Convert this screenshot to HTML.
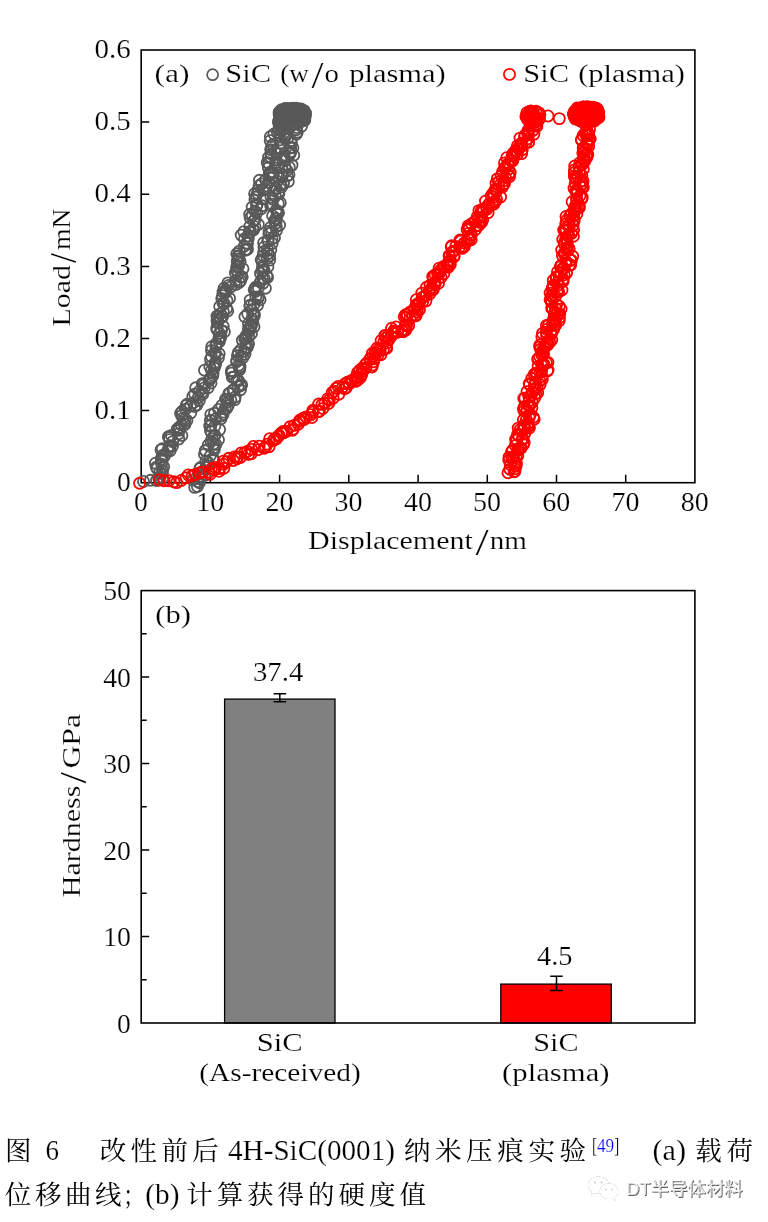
<!DOCTYPE html>
<html lang="zh-CN">
<head>
<meta charset="utf-8">
<title>图 6 改性前后 4H-SiC(0001) 纳米压痕实验</title>
<style>
html,body{margin:0;padding:0;background:#fff}
body{width:768px;height:1222px;overflow:hidden}
svg{display:block}
text{white-space:pre;stroke:#fff;stroke-width:.2px;paint-order:fill stroke}
text.cj{stroke:none}
</style>
</head>
<body>
<svg width="768" height="1222" viewBox="0 0 768 1222" font-family='"Liberation Serif","Noto Serif CJK SC",serif' fill="#000">
<rect width="768" height="1222" fill="#fff"/>
<rect x="141.2" y="50.0" width="553.7" height="432.7" fill="none" stroke="#000" stroke-width="1.6"/>
<path d="M210.4 482.7v-8M279.6 482.7v-8M348.8 482.7v-8M418.1 482.7v-8M487.3 482.7v-8M556.5 482.7v-8M625.7 482.7v-8M141.2 410.6h8M141.2 338.5h8M141.2 266.4h8M141.2 194.2h8M141.2 122.1h8" stroke="#000" stroke-width="1.5" fill="none"/>
<g fill="none" stroke="#595959" stroke-width="1.8">
<circle cx="143.5" cy="481.5" r="5.55"/><circle cx="150.5" cy="480.3" r="5.55"/><circle cx="156.5" cy="480.5" r="5.55"/><circle cx="159.1" cy="478.8" r="5.55"/><circle cx="158.9" cy="477.5" r="5.55"/><circle cx="162.7" cy="477.7" r="5.55"/><circle cx="162.4" cy="473.6" r="5.55"/><circle cx="159.7" cy="472.4" r="5.55"/><circle cx="162.5" cy="470.4" r="5.55"/><circle cx="156.3" cy="467.1" r="5.55"/><circle cx="157.0" cy="468.5" r="5.55"/><circle cx="163.7" cy="466.8" r="5.55"/><circle cx="161.6" cy="464.1" r="5.55"/><circle cx="155.4" cy="463.2" r="5.55"/><circle cx="162.0" cy="461.1" r="5.55"/><circle cx="161.2" cy="459.1" r="5.55"/><circle cx="163.8" cy="456.8" r="5.55"/><circle cx="162.2" cy="455.5" r="5.55"/><circle cx="165.0" cy="455.1" r="5.55"/><circle cx="161.0" cy="449.9" r="5.55"/><circle cx="162.3" cy="448.8" r="5.55"/><circle cx="167.8" cy="450.5" r="5.55"/><circle cx="170.2" cy="450.7" r="5.55"/><circle cx="169.1" cy="446.8" r="5.55"/><circle cx="172.5" cy="446.1" r="5.55"/><circle cx="170.3" cy="445.8" r="5.55"/><circle cx="172.7" cy="441.6" r="5.55"/><circle cx="169.6" cy="439.6" r="5.55"/><circle cx="168.3" cy="436.8" r="5.55"/><circle cx="169.2" cy="437.6" r="5.55"/><circle cx="171.4" cy="435.4" r="5.55"/><circle cx="178.8" cy="439.0" r="5.55"/><circle cx="178.4" cy="433.9" r="5.55"/><circle cx="181.9" cy="435.5" r="5.55"/><circle cx="179.0" cy="430.3" r="5.55"/><circle cx="177.3" cy="429.0" r="5.55"/><circle cx="178.9" cy="428.0" r="5.55"/><circle cx="179.3" cy="427.4" r="5.55"/><circle cx="181.5" cy="425.0" r="5.55"/><circle cx="184.9" cy="424.4" r="5.55"/><circle cx="184.3" cy="424.2" r="5.55"/><circle cx="186.9" cy="420.4" r="5.55"/><circle cx="183.0" cy="418.0" r="5.55"/><circle cx="184.9" cy="419.4" r="5.55"/><circle cx="181.6" cy="415.6" r="5.55"/><circle cx="180.6" cy="413.3" r="5.55"/><circle cx="182.2" cy="411.3" r="5.55"/><circle cx="190.7" cy="412.9" r="5.55"/><circle cx="185.5" cy="409.1" r="5.55"/><circle cx="186.1" cy="405.6" r="5.55"/><circle cx="190.4" cy="406.0" r="5.55"/><circle cx="187.0" cy="404.3" r="5.55"/><circle cx="194.7" cy="406.5" r="5.55"/><circle cx="196.9" cy="404.9" r="5.55"/><circle cx="193.2" cy="402.7" r="5.55"/><circle cx="199.3" cy="400.6" r="5.55"/><circle cx="192.7" cy="396.5" r="5.55"/><circle cx="198.1" cy="397.8" r="5.55"/><circle cx="194.7" cy="394.1" r="5.55"/><circle cx="202.7" cy="394.3" r="5.55"/><circle cx="202.0" cy="392.4" r="5.55"/><circle cx="199.3" cy="391.2" r="5.55"/><circle cx="195.7" cy="387.8" r="5.55"/><circle cx="204.3" cy="387.9" r="5.55"/><circle cx="208.1" cy="387.7" r="5.55"/><circle cx="203.4" cy="385.0" r="5.55"/><circle cx="202.3" cy="383.6" r="5.55"/><circle cx="211.0" cy="382.9" r="5.55"/><circle cx="209.1" cy="380.6" r="5.55"/><circle cx="209.6" cy="379.2" r="5.55"/><circle cx="210.5" cy="378.1" r="5.55"/><circle cx="210.8" cy="377.8" r="5.55"/><circle cx="212.8" cy="375.6" r="5.55"/><circle cx="213.0" cy="373.4" r="5.55"/><circle cx="204.5" cy="370.2" r="5.55"/><circle cx="211.6" cy="370.2" r="5.55"/><circle cx="214.3" cy="368.0" r="5.55"/><circle cx="209.8" cy="366.7" r="5.55"/><circle cx="215.0" cy="365.8" r="5.55"/><circle cx="215.5" cy="364.1" r="5.55"/><circle cx="215.3" cy="362.4" r="5.55"/><circle cx="210.5" cy="359.4" r="5.55"/><circle cx="211.5" cy="356.8" r="5.55"/><circle cx="218.4" cy="357.9" r="5.55"/><circle cx="215.7" cy="353.6" r="5.55"/><circle cx="219.2" cy="353.7" r="5.55"/><circle cx="214.9" cy="352.6" r="5.55"/><circle cx="211.5" cy="350.4" r="5.55"/><circle cx="211.7" cy="346.8" r="5.55"/><circle cx="215.8" cy="346.3" r="5.55"/><circle cx="216.3" cy="343.6" r="5.55"/><circle cx="216.3" cy="344.1" r="5.55"/><circle cx="219.3" cy="341.8" r="5.55"/><circle cx="220.2" cy="338.6" r="5.55"/><circle cx="219.1" cy="338.0" r="5.55"/><circle cx="220.8" cy="336.6" r="5.55"/><circle cx="219.4" cy="333.2" r="5.55"/><circle cx="224.4" cy="331.8" r="5.55"/><circle cx="221.4" cy="330.4" r="5.55"/><circle cx="217.2" cy="329.9" r="5.55"/><circle cx="216.7" cy="328.3" r="5.55"/><circle cx="223.2" cy="326.2" r="5.55"/><circle cx="217.4" cy="322.9" r="5.55"/><circle cx="217.1" cy="321.0" r="5.55"/><circle cx="217.5" cy="318.7" r="5.55"/><circle cx="220.6" cy="318.1" r="5.55"/><circle cx="217.0" cy="316.1" r="5.55"/><circle cx="218.7" cy="316.1" r="5.55"/><circle cx="222.6" cy="316.6" r="5.55"/><circle cx="220.4" cy="313.6" r="5.55"/><circle cx="223.3" cy="311.6" r="5.55"/><circle cx="227.7" cy="310.9" r="5.55"/><circle cx="219.7" cy="306.5" r="5.55"/><circle cx="226.6" cy="308.6" r="5.55"/><circle cx="224.4" cy="303.8" r="5.55"/><circle cx="222.9" cy="303.1" r="5.55"/><circle cx="227.0" cy="300.6" r="5.55"/><circle cx="221.8" cy="298.6" r="5.55"/><circle cx="222.5" cy="295.7" r="5.55"/><circle cx="229.5" cy="298.4" r="5.55"/><circle cx="223.0" cy="292.0" r="5.55"/><circle cx="225.7" cy="292.5" r="5.55"/><circle cx="225.3" cy="291.3" r="5.55"/><circle cx="225.5" cy="290.2" r="5.55"/><circle cx="224.1" cy="288.3" r="5.55"/><circle cx="228.7" cy="285.4" r="5.55"/><circle cx="231.1" cy="286.6" r="5.55"/><circle cx="227.9" cy="282.9" r="5.55"/><circle cx="236.1" cy="284.4" r="5.55"/><circle cx="235.5" cy="280.7" r="5.55"/><circle cx="239.2" cy="282.4" r="5.55"/><circle cx="240.6" cy="280.7" r="5.55"/><circle cx="240.7" cy="276.9" r="5.55"/><circle cx="242.2" cy="276.9" r="5.55"/><circle cx="238.2" cy="273.9" r="5.55"/><circle cx="235.4" cy="273.0" r="5.55"/><circle cx="236.5" cy="270.3" r="5.55"/><circle cx="243.0" cy="268.7" r="5.55"/><circle cx="236.7" cy="266.7" r="5.55"/><circle cx="238.6" cy="266.1" r="5.55"/><circle cx="237.2" cy="261.4" r="5.55"/><circle cx="240.2" cy="261.8" r="5.55"/><circle cx="238.2" cy="259.3" r="5.55"/><circle cx="239.1" cy="258.7" r="5.55"/><circle cx="238.0" cy="255.9" r="5.55"/><circle cx="238.6" cy="256.3" r="5.55"/><circle cx="236.8" cy="253.8" r="5.55"/><circle cx="239.4" cy="251.1" r="5.55"/><circle cx="245.2" cy="250.2" r="5.55"/><circle cx="246.5" cy="249.4" r="5.55"/><circle cx="247.5" cy="249.3" r="5.55"/><circle cx="244.2" cy="246.2" r="5.55"/><circle cx="247.5" cy="243.5" r="5.55"/><circle cx="246.6" cy="243.1" r="5.55"/><circle cx="244.5" cy="238.8" r="5.55"/><circle cx="248.3" cy="238.6" r="5.55"/><circle cx="247.9" cy="236.2" r="5.55"/><circle cx="241.2" cy="235.1" r="5.55"/><circle cx="243.8" cy="231.7" r="5.55"/><circle cx="250.2" cy="232.2" r="5.55"/><circle cx="249.4" cy="232.0" r="5.55"/><circle cx="253.6" cy="229.9" r="5.55"/><circle cx="253.0" cy="229.6" r="5.55"/><circle cx="249.7" cy="226.5" r="5.55"/><circle cx="255.0" cy="226.7" r="5.55"/><circle cx="258.3" cy="224.4" r="5.55"/><circle cx="253.7" cy="221.0" r="5.55"/><circle cx="255.2" cy="219.3" r="5.55"/><circle cx="250.2" cy="218.0" r="5.55"/><circle cx="252.3" cy="215.0" r="5.55"/><circle cx="249.7" cy="214.3" r="5.55"/><circle cx="256.8" cy="212.7" r="5.55"/><circle cx="255.2" cy="211.5" r="5.55"/><circle cx="252.2" cy="207.1" r="5.55"/><circle cx="261.3" cy="208.6" r="5.55"/><circle cx="256.5" cy="205.9" r="5.55"/><circle cx="257.0" cy="204.6" r="5.55"/><circle cx="262.2" cy="205.8" r="5.55"/><circle cx="255.0" cy="200.1" r="5.55"/><circle cx="255.7" cy="197.1" r="5.55"/><circle cx="263.3" cy="198.9" r="5.55"/><circle cx="263.4" cy="198.2" r="5.55"/><circle cx="254.6" cy="193.7" r="5.55"/><circle cx="257.5" cy="193.3" r="5.55"/><circle cx="258.2" cy="190.1" r="5.55"/><circle cx="262.8" cy="190.0" r="5.55"/><circle cx="264.9" cy="188.9" r="5.55"/><circle cx="259.0" cy="185.7" r="5.55"/><circle cx="266.9" cy="185.9" r="5.55"/><circle cx="261.6" cy="183.9" r="5.55"/><circle cx="259.4" cy="180.3" r="5.55"/><circle cx="268.8" cy="182.4" r="5.55"/><circle cx="265.4" cy="180.0" r="5.55"/><circle cx="271.5" cy="177.5" r="5.55"/><circle cx="269.5" cy="174.8" r="5.55"/><circle cx="269.3" cy="173.4" r="5.55"/><circle cx="271.1" cy="174.3" r="5.55"/><circle cx="270.8" cy="171.9" r="5.55"/><circle cx="273.6" cy="172.7" r="5.55"/><circle cx="268.3" cy="167.8" r="5.55"/><circle cx="274.9" cy="168.1" r="5.55"/><circle cx="268.7" cy="163.2" r="5.55"/><circle cx="267.2" cy="162.6" r="5.55"/><circle cx="275.3" cy="162.8" r="5.55"/><circle cx="276.3" cy="159.7" r="5.55"/><circle cx="268.5" cy="157.4" r="5.55"/><circle cx="270.9" cy="157.3" r="5.55"/><circle cx="271.3" cy="153.9" r="5.55"/><circle cx="277.0" cy="153.7" r="5.55"/><circle cx="275.1" cy="152.0" r="5.55"/><circle cx="270.7" cy="149.6" r="5.55"/><circle cx="271.7" cy="146.5" r="5.55"/><circle cx="279.2" cy="147.8" r="5.55"/><circle cx="272.9" cy="144.5" r="5.55"/><circle cx="280.4" cy="142.9" r="5.55"/><circle cx="270.2" cy="140.7" r="5.55"/><circle cx="279.5" cy="140.0" r="5.55"/><circle cx="270.4" cy="136.6" r="5.55"/><circle cx="279.7" cy="135.1" r="5.55"/><circle cx="273.9" cy="134.0" r="5.55"/><circle cx="277.4" cy="132.6" r="5.55"/><circle cx="280.9" cy="130.8" r="5.55"/><circle cx="279.0" cy="129.0" r="5.55"/><circle cx="282.5" cy="130.2" r="5.55"/><circle cx="282.9" cy="127.1" r="5.55"/><circle cx="279.5" cy="124.5" r="5.55"/><circle cx="278.8" cy="123.5" r="5.55"/><circle cx="284.5" cy="122.2" r="5.55"/><circle cx="284.8" cy="122.1" r="5.55"/><circle cx="283.8" cy="117.3" r="5.55"/><circle cx="288.1" cy="117.1" r="5.55"/><circle cx="281.5" cy="113.6" r="5.55"/><circle cx="303.0" cy="115.9" r="5.55"/><circle cx="304.1" cy="119.4" r="5.55"/><circle cx="304.4" cy="120.3" r="5.55"/><circle cx="301.2" cy="121.5" r="5.55"/><circle cx="297.2" cy="120.7" r="5.55"/><circle cx="301.6" cy="126.1" r="5.55"/><circle cx="296.0" cy="122.6" r="5.55"/><circle cx="295.6" cy="124.4" r="5.55"/><circle cx="296.6" cy="127.5" r="5.55"/><circle cx="296.2" cy="129.7" r="5.55"/><circle cx="297.2" cy="132.2" r="5.55"/><circle cx="289.0" cy="128.4" r="5.55"/><circle cx="296.3" cy="134.2" r="5.55"/><circle cx="285.9" cy="135.4" r="5.55"/><circle cx="285.0" cy="135.9" r="5.55"/><circle cx="284.7" cy="137.7" r="5.55"/><circle cx="287.4" cy="138.5" r="5.55"/><circle cx="290.9" cy="140.7" r="5.55"/><circle cx="291.4" cy="142.5" r="5.55"/><circle cx="292.9" cy="147.7" r="5.55"/><circle cx="290.6" cy="147.6" r="5.55"/><circle cx="290.4" cy="147.8" r="5.55"/><circle cx="290.5" cy="151.7" r="5.55"/><circle cx="290.5" cy="153.0" r="5.55"/><circle cx="289.9" cy="154.1" r="5.55"/><circle cx="293.7" cy="155.2" r="5.55"/><circle cx="284.2" cy="154.9" r="5.55"/><circle cx="283.8" cy="157.7" r="5.55"/><circle cx="282.7" cy="159.5" r="5.55"/><circle cx="285.1" cy="160.7" r="5.55"/><circle cx="292.0" cy="165.1" r="5.55"/><circle cx="284.9" cy="166.8" r="5.55"/><circle cx="289.3" cy="167.2" r="5.55"/><circle cx="281.8" cy="167.8" r="5.55"/><circle cx="287.0" cy="170.5" r="5.55"/><circle cx="289.0" cy="174.8" r="5.55"/><circle cx="282.3" cy="174.2" r="5.55"/><circle cx="287.3" cy="175.9" r="5.55"/><circle cx="282.5" cy="175.1" r="5.55"/><circle cx="282.0" cy="177.0" r="5.55"/><circle cx="288.3" cy="181.5" r="5.55"/><circle cx="277.2" cy="181.3" r="5.55"/><circle cx="283.5" cy="183.4" r="5.55"/><circle cx="280.3" cy="184.9" r="5.55"/><circle cx="281.8" cy="186.8" r="5.55"/><circle cx="276.0" cy="188.1" r="5.55"/><circle cx="275.7" cy="188.1" r="5.55"/><circle cx="278.5" cy="192.2" r="5.55"/><circle cx="274.1" cy="190.8" r="5.55"/><circle cx="278.9" cy="193.6" r="5.55"/><circle cx="275.3" cy="196.1" r="5.55"/><circle cx="271.0" cy="197.0" r="5.55"/><circle cx="272.9" cy="199.2" r="5.55"/><circle cx="280.3" cy="202.7" r="5.55"/><circle cx="272.3" cy="204.2" r="5.55"/><circle cx="278.3" cy="203.5" r="5.55"/><circle cx="270.7" cy="205.5" r="5.55"/><circle cx="276.3" cy="210.1" r="5.55"/><circle cx="277.3" cy="211.1" r="5.55"/><circle cx="278.5" cy="212.9" r="5.55"/><circle cx="277.2" cy="213.3" r="5.55"/><circle cx="277.3" cy="214.1" r="5.55"/><circle cx="272.6" cy="215.7" r="5.55"/><circle cx="275.9" cy="218.5" r="5.55"/><circle cx="276.4" cy="219.0" r="5.55"/><circle cx="274.4" cy="220.9" r="5.55"/><circle cx="276.0" cy="223.3" r="5.55"/><circle cx="279.6" cy="225.0" r="5.55"/><circle cx="276.3" cy="226.8" r="5.55"/><circle cx="270.5" cy="227.5" r="5.55"/><circle cx="276.5" cy="230.5" r="5.55"/><circle cx="269.1" cy="231.3" r="5.55"/><circle cx="271.6" cy="232.2" r="5.55"/><circle cx="268.9" cy="233.7" r="5.55"/><circle cx="272.1" cy="238.7" r="5.55"/><circle cx="274.5" cy="237.8" r="5.55"/><circle cx="268.0" cy="241.0" r="5.55"/><circle cx="268.0" cy="240.4" r="5.55"/><circle cx="272.1" cy="243.4" r="5.55"/><circle cx="263.6" cy="242.8" r="5.55"/><circle cx="264.0" cy="247.2" r="5.55"/><circle cx="270.8" cy="250.0" r="5.55"/><circle cx="267.5" cy="249.4" r="5.55"/><circle cx="267.9" cy="253.7" r="5.55"/><circle cx="263.7" cy="251.8" r="5.55"/><circle cx="269.6" cy="255.9" r="5.55"/><circle cx="263.2" cy="255.6" r="5.55"/><circle cx="267.2" cy="258.4" r="5.55"/><circle cx="269.7" cy="260.1" r="5.55"/><circle cx="261.2" cy="259.8" r="5.55"/><circle cx="262.2" cy="261.5" r="5.55"/><circle cx="267.9" cy="266.7" r="5.55"/><circle cx="262.6" cy="265.9" r="5.55"/><circle cx="262.7" cy="267.9" r="5.55"/><circle cx="264.0" cy="270.3" r="5.55"/><circle cx="262.1" cy="270.9" r="5.55"/><circle cx="260.5" cy="273.4" r="5.55"/><circle cx="266.9" cy="276.1" r="5.55"/><circle cx="267.5" cy="277.4" r="5.55"/><circle cx="264.3" cy="278.6" r="5.55"/><circle cx="262.5" cy="278.5" r="5.55"/><circle cx="260.4" cy="282.0" r="5.55"/><circle cx="263.1" cy="283.1" r="5.55"/><circle cx="265.4" cy="288.2" r="5.55"/><circle cx="258.4" cy="288.1" r="5.55"/><circle cx="255.8" cy="287.1" r="5.55"/><circle cx="255.1" cy="288.8" r="5.55"/><circle cx="254.2" cy="289.8" r="5.55"/><circle cx="255.4" cy="291.4" r="5.55"/><circle cx="258.5" cy="296.9" r="5.55"/><circle cx="255.8" cy="297.1" r="5.55"/><circle cx="258.0" cy="298.3" r="5.55"/><circle cx="260.1" cy="299.8" r="5.55"/><circle cx="250.2" cy="300.1" r="5.55"/><circle cx="257.5" cy="305.3" r="5.55"/><circle cx="253.9" cy="304.5" r="5.55"/><circle cx="250.1" cy="305.3" r="5.55"/><circle cx="249.9" cy="305.9" r="5.55"/><circle cx="251.6" cy="309.7" r="5.55"/><circle cx="254.3" cy="313.8" r="5.55"/><circle cx="253.0" cy="314.2" r="5.55"/><circle cx="254.3" cy="316.1" r="5.55"/><circle cx="247.7" cy="313.9" r="5.55"/><circle cx="244.9" cy="316.7" r="5.55"/><circle cx="251.8" cy="318.7" r="5.55"/><circle cx="252.8" cy="321.8" r="5.55"/><circle cx="248.5" cy="323.7" r="5.55"/><circle cx="251.5" cy="325.3" r="5.55"/><circle cx="254.0" cy="326.8" r="5.55"/><circle cx="250.6" cy="327.2" r="5.55"/><circle cx="248.3" cy="328.9" r="5.55"/><circle cx="249.4" cy="330.9" r="5.55"/><circle cx="251.4" cy="333.8" r="5.55"/><circle cx="246.6" cy="335.1" r="5.55"/><circle cx="248.7" cy="336.7" r="5.55"/><circle cx="245.7" cy="337.3" r="5.55"/><circle cx="244.7" cy="338.9" r="5.55"/><circle cx="242.4" cy="340.3" r="5.55"/><circle cx="248.5" cy="344.1" r="5.55"/><circle cx="246.3" cy="343.3" r="5.55"/><circle cx="247.3" cy="347.3" r="5.55"/><circle cx="245.4" cy="347.8" r="5.55"/><circle cx="241.0" cy="349.5" r="5.55"/><circle cx="244.2" cy="351.2" r="5.55"/><circle cx="245.0" cy="354.1" r="5.55"/><circle cx="238.3" cy="352.5" r="5.55"/><circle cx="237.5" cy="355.6" r="5.55"/><circle cx="240.5" cy="357.0" r="5.55"/><circle cx="242.8" cy="357.8" r="5.55"/><circle cx="236.7" cy="360.6" r="5.55"/><circle cx="236.7" cy="361.8" r="5.55"/><circle cx="238.8" cy="365.1" r="5.55"/><circle cx="240.1" cy="366.6" r="5.55"/><circle cx="239.7" cy="369.6" r="5.55"/><circle cx="239.5" cy="368.0" r="5.55"/><circle cx="231.4" cy="370.7" r="5.55"/><circle cx="232.1" cy="370.7" r="5.55"/><circle cx="231.5" cy="373.2" r="5.55"/><circle cx="233.8" cy="377.1" r="5.55"/><circle cx="232.3" cy="377.3" r="5.55"/><circle cx="236.8" cy="380.6" r="5.55"/><circle cx="238.6" cy="380.7" r="5.55"/><circle cx="240.5" cy="385.8" r="5.55"/><circle cx="241.7" cy="384.8" r="5.55"/><circle cx="238.1" cy="386.6" r="5.55"/><circle cx="240.5" cy="389.7" r="5.55"/><circle cx="233.0" cy="390.0" r="5.55"/><circle cx="234.1" cy="390.1" r="5.55"/><circle cx="229.8" cy="393.1" r="5.55"/><circle cx="228.8" cy="393.5" r="5.55"/><circle cx="235.2" cy="397.0" r="5.55"/><circle cx="234.8" cy="399.6" r="5.55"/><circle cx="227.3" cy="399.2" r="5.55"/><circle cx="230.8" cy="399.9" r="5.55"/><circle cx="225.6" cy="399.1" r="5.55"/><circle cx="228.2" cy="401.8" r="5.55"/><circle cx="228.2" cy="405.8" r="5.55"/><circle cx="226.9" cy="408.1" r="5.55"/><circle cx="221.8" cy="405.5" r="5.55"/><circle cx="225.0" cy="408.9" r="5.55"/><circle cx="223.3" cy="412.1" r="5.55"/><circle cx="223.1" cy="414.3" r="5.55"/><circle cx="218.7" cy="409.4" r="5.55"/><circle cx="221.4" cy="416.0" r="5.55"/><circle cx="221.1" cy="418.7" r="5.55"/><circle cx="214.5" cy="413.3" r="5.55"/><circle cx="215.6" cy="419.0" r="5.55"/><circle cx="210.8" cy="414.6" r="5.55"/><circle cx="210.4" cy="420.3" r="5.55"/><circle cx="211.2" cy="420.7" r="5.55"/><circle cx="210.8" cy="425.4" r="5.55"/><circle cx="214.9" cy="426.1" r="5.55"/><circle cx="209.7" cy="426.1" r="5.55"/><circle cx="219.6" cy="429.6" r="5.55"/><circle cx="210.5" cy="430.7" r="5.55"/><circle cx="211.2" cy="431.8" r="5.55"/><circle cx="215.0" cy="435.5" r="5.55"/><circle cx="213.9" cy="436.3" r="5.55"/><circle cx="218.5" cy="439.8" r="5.55"/><circle cx="212.1" cy="438.8" r="5.55"/><circle cx="211.0" cy="441.3" r="5.55"/><circle cx="213.6" cy="444.0" r="5.55"/><circle cx="215.9" cy="444.5" r="5.55"/><circle cx="208.3" cy="445.1" r="5.55"/><circle cx="214.0" cy="447.6" r="5.55"/><circle cx="214.3" cy="449.9" r="5.55"/><circle cx="205.3" cy="450.8" r="5.55"/><circle cx="205.5" cy="450.5" r="5.55"/><circle cx="204.5" cy="454.2" r="5.55"/><circle cx="210.2" cy="456.0" r="5.55"/><circle cx="213.2" cy="458.5" r="5.55"/><circle cx="213.5" cy="460.5" r="5.55"/><circle cx="205.9" cy="461.3" r="5.55"/><circle cx="208.0" cy="462.2" r="5.55"/><circle cx="207.4" cy="465.6" r="5.55"/><circle cx="206.3" cy="467.0" r="5.55"/><circle cx="206.0" cy="467.4" r="5.55"/><circle cx="200.5" cy="467.5" r="5.55"/><circle cx="199.8" cy="468.7" r="5.55"/><circle cx="202.9" cy="471.3" r="5.55"/><circle cx="205.1" cy="475.1" r="5.55"/><circle cx="198.5" cy="473.9" r="5.55"/><circle cx="201.0" cy="476.1" r="5.55"/><circle cx="200.2" cy="478.9" r="5.55"/><circle cx="199.4" cy="482.8" r="5.55"/><circle cx="197.9" cy="481.6" r="5.55"/><circle cx="197.4" cy="486.5" r="5.55"/><circle cx="193.0" cy="479.9" r="5.55"/><circle cx="194.7" cy="487.4" r="5.55"/><circle cx="293.5" cy="115.7" r="5.55"/><circle cx="292.7" cy="114.9" r="5.55"/><circle cx="301.3" cy="113.6" r="5.55"/><circle cx="290.0" cy="118.1" r="5.55"/><circle cx="284.5" cy="115.4" r="5.55"/><circle cx="289.5" cy="116.2" r="5.55"/><circle cx="288.5" cy="108.7" r="5.55"/><circle cx="286.3" cy="112.3" r="5.55"/><circle cx="279.2" cy="112.5" r="5.55"/><circle cx="290.2" cy="115.5" r="5.55"/><circle cx="288.4" cy="110.9" r="5.55"/><circle cx="284.9" cy="116.0" r="5.55"/><circle cx="304.4" cy="113.7" r="5.55"/><circle cx="284.8" cy="116.6" r="5.55"/><circle cx="289.5" cy="110.3" r="5.55"/><circle cx="282.3" cy="116.3" r="5.55"/><circle cx="300.8" cy="114.8" r="5.55"/><circle cx="291.6" cy="114.1" r="5.55"/><circle cx="288.4" cy="114.9" r="5.55"/><circle cx="301.1" cy="116.8" r="5.55"/><circle cx="291.5" cy="111.2" r="5.55"/><circle cx="293.7" cy="109.4" r="5.55"/><circle cx="301.5" cy="111.9" r="5.55"/><circle cx="301.9" cy="110.9" r="5.55"/><circle cx="289.0" cy="110.8" r="5.55"/><circle cx="290.4" cy="110.1" r="5.55"/><circle cx="286.4" cy="110.7" r="5.55"/><circle cx="287.0" cy="113.2" r="5.55"/><circle cx="290.5" cy="114.9" r="5.55"/><circle cx="296.7" cy="111.9" r="5.55"/><circle cx="303.4" cy="116.4" r="5.55"/><circle cx="282.6" cy="116.9" r="5.55"/><circle cx="296.0" cy="108.3" r="5.55"/><circle cx="296.6" cy="110.8" r="5.55"/><circle cx="281.6" cy="109.6" r="5.55"/><circle cx="285.2" cy="116.3" r="5.55"/><circle cx="288.2" cy="109.7" r="5.55"/><circle cx="303.4" cy="116.5" r="5.55"/><circle cx="283.4" cy="117.5" r="5.55"/><circle cx="295.3" cy="116.4" r="5.55"/><circle cx="297.0" cy="117.6" r="5.55"/><circle cx="300.2" cy="117.0" r="5.55"/><circle cx="284.2" cy="115.4" r="5.55"/><circle cx="293.2" cy="116.0" r="5.55"/><circle cx="290.7" cy="117.5" r="5.55"/><circle cx="293.9" cy="110.9" r="5.55"/><circle cx="285.2" cy="109.6" r="5.55"/><circle cx="292.2" cy="108.7" r="5.55"/><circle cx="291.5" cy="109.6" r="5.55"/><circle cx="292.2" cy="113.4" r="5.55"/><circle cx="293.5" cy="117.2" r="5.55"/><circle cx="291.5" cy="114.1" r="5.55"/><circle cx="296.9" cy="117.0" r="5.55"/><circle cx="289.0" cy="112.5" r="5.55"/><circle cx="296.1" cy="114.8" r="5.55"/><circle cx="279.6" cy="114.6" r="5.55"/><circle cx="297.4" cy="118.0" r="5.55"/><circle cx="287.8" cy="118.5" r="5.55"/><circle cx="292.7" cy="113.2" r="5.55"/><circle cx="298.3" cy="114.7" r="5.55"/><circle cx="288.0" cy="117.2" r="5.55"/><circle cx="288.8" cy="113.1" r="5.55"/><circle cx="293.1" cy="116.3" r="5.55"/><circle cx="284.5" cy="112.7" r="5.55"/><circle cx="290.3" cy="114.0" r="5.55"/><circle cx="301.3" cy="111.2" r="5.55"/><circle cx="301.3" cy="112.4" r="5.55"/><circle cx="292.5" cy="111.0" r="5.55"/><circle cx="292.6" cy="118.4" r="5.55"/><circle cx="296.6" cy="116.5" r="5.55"/><circle cx="287.8" cy="111.5" r="5.55"/><circle cx="286.9" cy="114.3" r="5.55"/><circle cx="296.1" cy="116.4" r="5.55"/><circle cx="279.9" cy="115.8" r="5.55"/><circle cx="302.9" cy="113.9" r="5.55"/><circle cx="280.2" cy="111.3" r="5.55"/><circle cx="303.9" cy="114.6" r="5.55"/><circle cx="296.7" cy="116.5" r="5.55"/><circle cx="303.5" cy="114.6" r="5.55"/><circle cx="295.6" cy="114.7" r="5.55"/><circle cx="297.7" cy="114.4" r="5.55"/><circle cx="297.3" cy="110.4" r="5.55"/><circle cx="296.9" cy="113.0" r="5.55"/><circle cx="299.5" cy="109.2" r="5.55"/><circle cx="299.9" cy="117.8" r="5.55"/><circle cx="296.6" cy="112.0" r="5.55"/><circle cx="301.2" cy="116.4" r="5.55"/><circle cx="294.1" cy="110.8" r="5.55"/><circle cx="287.0" cy="112.6" r="5.55"/><circle cx="287.5" cy="112.7" r="5.55"/><circle cx="296.3" cy="118.0" r="5.55"/><circle cx="280.3" cy="114.1" r="5.55"/><circle cx="300.8" cy="114.2" r="5.55"/><circle cx="303.8" cy="112.8" r="5.55"/><circle cx="279.2" cy="112.2" r="5.55"/><circle cx="294.9" cy="118.0" r="5.55"/><circle cx="305.5" cy="113.1" r="5.55"/><circle cx="290.0" cy="109.2" r="5.55"/><circle cx="296.3" cy="110.4" r="5.55"/><circle cx="298.4" cy="110.7" r="5.55"/><circle cx="298.8" cy="110.1" r="5.55"/><circle cx="280.2" cy="116.3" r="5.55"/><circle cx="298.2" cy="117.2" r="5.55"/><circle cx="298.6" cy="109.0" r="5.55"/><circle cx="295.9" cy="115.6" r="5.55"/><circle cx="291.3" cy="118.0" r="5.55"/><circle cx="285.7" cy="118.3" r="5.55"/><circle cx="279.2" cy="115.0" r="5.55"/><circle cx="301.0" cy="108.9" r="5.55"/><circle cx="287.3" cy="115.8" r="5.55"/><circle cx="283.3" cy="117.2" r="5.55"/><circle cx="292.0" cy="108.7" r="5.55"/><circle cx="288.8" cy="114.2" r="5.55"/><circle cx="290.7" cy="115.3" r="5.55"/><circle cx="282.7" cy="116.6" r="5.55"/><circle cx="288.7" cy="114.9" r="5.55"/><circle cx="295.9" cy="112.5" r="5.55"/><circle cx="289.3" cy="116.4" r="5.55"/><circle cx="304.5" cy="116.4" r="5.55"/><circle cx="294.2" cy="111.2" r="5.55"/><circle cx="297.9" cy="116.9" r="5.55"/><circle cx="287.8" cy="114.5" r="5.55"/><circle cx="295.2" cy="111.4" r="5.55"/><circle cx="290.5" cy="117.5" r="5.55"/><circle cx="289.0" cy="115.4" r="5.55"/><circle cx="295.2" cy="117.6" r="5.55"/><circle cx="300.8" cy="111.1" r="5.55"/><circle cx="290.3" cy="114.3" r="5.55"/><circle cx="301.0" cy="117.5" r="5.55"/><circle cx="300.9" cy="117.3" r="5.55"/><circle cx="294.4" cy="111.0" r="5.55"/><circle cx="302.0" cy="116.7" r="5.55"/><circle cx="297.4" cy="117.8" r="5.55"/><circle cx="288.2" cy="109.0" r="5.55"/><circle cx="293.9" cy="116.6" r="5.55"/><circle cx="284.3" cy="116.1" r="5.55"/><circle cx="304.1" cy="110.6" r="5.55"/><circle cx="295.3" cy="115.3" r="5.55"/><circle cx="291.5" cy="110.3" r="5.55"/><circle cx="285.7" cy="116.1" r="5.55"/><circle cx="300.3" cy="113.0" r="5.55"/><circle cx="281.2" cy="116.6" r="5.55"/><circle cx="299.8" cy="110.6" r="5.55"/><circle cx="294.6" cy="117.6" r="5.55"/><circle cx="302.9" cy="113.6" r="5.55"/><circle cx="291.8" cy="114.3" r="5.55"/><circle cx="283.9" cy="110.1" r="5.55"/><circle cx="283.7" cy="115.5" r="5.55"/><circle cx="288.7" cy="114.1" r="5.55"/><circle cx="289.7" cy="113.6" r="5.55"/><circle cx="281.7" cy="114.8" r="5.55"/><circle cx="300.2" cy="109.8" r="5.55"/><circle cx="295.0" cy="111.8" r="5.55"/><circle cx="292.9" cy="108.3" r="5.55"/><circle cx="302.4" cy="113.3" r="5.55"/><circle cx="294.2" cy="110.9" r="5.55"/><circle cx="300.0" cy="112.6" r="5.55"/><circle cx="304.5" cy="116.2" r="5.55"/><circle cx="285.7" cy="108.5" r="5.55"/><circle cx="284.3" cy="110.0" r="5.55"/><circle cx="294.0" cy="117.3" r="5.55"/><circle cx="291.3" cy="118.1" r="5.55"/><circle cx="295.1" cy="112.3" r="5.55"/><circle cx="285.8" cy="114.1" r="5.55"/><circle cx="296.2" cy="118.2" r="5.55"/><circle cx="297.0" cy="112.3" r="5.55"/><circle cx="291.0" cy="109.8" r="5.55"/><circle cx="285.8" cy="111.8" r="5.55"/><circle cx="300.2" cy="115.6" r="5.55"/><circle cx="296.4" cy="118.5" r="5.55"/><circle cx="299.3" cy="118.1" r="5.55"/><circle cx="297.2" cy="111.3" r="5.55"/><circle cx="294.9" cy="116.1" r="5.55"/><circle cx="281.7" cy="111.5" r="5.55"/><circle cx="285.8" cy="109.4" r="5.55"/><circle cx="291.9" cy="109.9" r="5.55"/><circle cx="285.3" cy="109.6" r="5.55"/><circle cx="298.3" cy="110.2" r="5.55"/><circle cx="284.8" cy="118.0" r="5.55"/><circle cx="302.4" cy="117.5" r="5.55"/><circle cx="282.6" cy="112.8" r="5.55"/><circle cx="301.7" cy="114.8" r="5.55"/><circle cx="291.1" cy="111.7" r="5.55"/><circle cx="301.2" cy="113.2" r="5.55"/><circle cx="295.9" cy="109.6" r="5.55"/><circle cx="284.8" cy="108.7" r="5.55"/><circle cx="298.2" cy="114.0" r="5.55"/><circle cx="282.7" cy="117.3" r="5.55"/><circle cx="286.0" cy="112.5" r="5.55"/><circle cx="283.0" cy="111.0" r="5.55"/><circle cx="304.7" cy="116.3" r="5.55"/><circle cx="297.3" cy="117.4" r="5.55"/><circle cx="299.0" cy="120.3" r="5.55"/><circle cx="302.9" cy="115.5" r="5.55"/><circle cx="300.8" cy="116.0" r="5.55"/><circle cx="298.3" cy="115.4" r="5.55"/><circle cx="299.5" cy="120.9" r="5.55"/><circle cx="296.6" cy="116.0" r="5.55"/><circle cx="303.5" cy="116.1" r="5.55"/><circle cx="304.4" cy="116.4" r="5.55"/><circle cx="304.7" cy="117.7" r="5.55"/><circle cx="297.5" cy="117.0" r="5.55"/><circle cx="305.5" cy="115.5" r="5.55"/><circle cx="301.8" cy="115.0" r="5.55"/><circle cx="297.5" cy="119.4" r="5.55"/><circle cx="303.3" cy="115.4" r="5.55"/><circle cx="302.2" cy="117.5" r="5.55"/><circle cx="298.5" cy="115.4" r="5.55"/><circle cx="302.2" cy="119.0" r="5.55"/><circle cx="304.4" cy="118.1" r="5.55"/><circle cx="297.7" cy="114.5" r="5.55"/><circle cx="303.6" cy="116.9" r="5.55"/><circle cx="303.4" cy="114.4" r="5.55"/><circle cx="304.4" cy="116.3" r="5.55"/><circle cx="304.8" cy="120.1" r="5.55"/><circle cx="283.9" cy="116.6" r="5.55"/><circle cx="288.5" cy="120.8" r="5.55"/><circle cx="288.1" cy="118.9" r="5.55"/><circle cx="280.5" cy="124.0" r="5.55"/><circle cx="282.5" cy="118.0" r="5.55"/><circle cx="282.6" cy="121.9" r="5.55"/><circle cx="278.6" cy="121.2" r="5.55"/><circle cx="283.4" cy="121.1" r="5.55"/><circle cx="279.8" cy="122.9" r="5.55"/><circle cx="287.5" cy="124.3" r="5.55"/><circle cx="282.0" cy="122.9" r="5.55"/><circle cx="282.7" cy="123.3" r="5.55"/><circle cx="289.0" cy="121.0" r="5.55"/><circle cx="284.1" cy="121.3" r="5.55"/><circle cx="284.4" cy="116.7" r="5.55"/><circle cx="280.5" cy="117.4" r="5.55"/><circle cx="281.3" cy="123.9" r="5.55"/><circle cx="286.2" cy="118.3" r="5.55"/><circle cx="278.7" cy="121.9" r="5.55"/><circle cx="284.8" cy="121.2" r="5.55"/><circle cx="286.2" cy="117.4" r="5.55"/><circle cx="288.1" cy="123.0" r="5.55"/><circle cx="283.9" cy="121.0" r="5.55"/><circle cx="281.6" cy="117.6" r="5.55"/><circle cx="283.0" cy="117.7" r="5.55"/>
</g>
<g fill="none" stroke="#ff0000" stroke-width="1.8">
<circle cx="139.6" cy="483.2" r="5.55"/><circle cx="159.2" cy="480.0" r="5.55"/><circle cx="164.1" cy="480.7" r="5.55"/><circle cx="168.9" cy="480.7" r="5.55"/><circle cx="173.9" cy="481.8" r="5.55"/><circle cx="176.6" cy="482.6" r="5.55"/><circle cx="181.2" cy="480.5" r="5.55"/><circle cx="186.0" cy="477.9" r="5.55"/><circle cx="188.3" cy="475.0" r="5.55"/><circle cx="192.2" cy="475.5" r="5.55"/><circle cx="194.9" cy="474.6" r="5.55"/><circle cx="199.7" cy="472.7" r="5.55"/><circle cx="203.0" cy="472.2" r="5.55"/><circle cx="209.1" cy="472.2" r="5.55"/><circle cx="210.1" cy="474.2" r="5.55"/><circle cx="211.4" cy="468.8" r="5.55"/><circle cx="214.6" cy="469.7" r="5.55"/><circle cx="215.4" cy="467.4" r="5.55"/><circle cx="219.1" cy="471.3" r="5.55"/><circle cx="219.4" cy="468.6" r="5.55"/><circle cx="223.8" cy="468.3" r="5.55"/><circle cx="223.5" cy="464.2" r="5.55"/><circle cx="223.3" cy="461.2" r="5.55"/><circle cx="226.8" cy="461.7" r="5.55"/><circle cx="228.7" cy="458.3" r="5.55"/><circle cx="233.3" cy="460.5" r="5.55"/><circle cx="234.5" cy="456.9" r="5.55"/><circle cx="237.0" cy="458.8" r="5.55"/><circle cx="237.6" cy="456.9" r="5.55"/><circle cx="240.3" cy="457.5" r="5.55"/><circle cx="241.1" cy="453.0" r="5.55"/><circle cx="244.8" cy="452.6" r="5.55"/><circle cx="247.5" cy="451.3" r="5.55"/><circle cx="248.6" cy="454.4" r="5.55"/><circle cx="251.3" cy="453.6" r="5.55"/><circle cx="251.6" cy="449.4" r="5.55"/><circle cx="253.4" cy="446.5" r="5.55"/><circle cx="258.0" cy="449.6" r="5.55"/><circle cx="259.2" cy="446.1" r="5.55"/><circle cx="264.1" cy="448.2" r="5.55"/><circle cx="265.6" cy="446.9" r="5.55"/><circle cx="267.3" cy="444.1" r="5.55"/><circle cx="269.1" cy="446.8" r="5.55"/><circle cx="269.8" cy="438.6" r="5.55"/><circle cx="273.5" cy="440.4" r="5.55"/><circle cx="274.6" cy="438.7" r="5.55"/><circle cx="276.5" cy="438.8" r="5.55"/><circle cx="278.2" cy="436.5" r="5.55"/><circle cx="279.1" cy="435.2" r="5.55"/><circle cx="281.4" cy="432.9" r="5.55"/><circle cx="283.9" cy="432.7" r="5.55"/><circle cx="283.2" cy="431.5" r="5.55"/><circle cx="286.8" cy="431.3" r="5.55"/><circle cx="290.0" cy="426.8" r="5.55"/><circle cx="292.5" cy="430.3" r="5.55"/><circle cx="293.1" cy="429.3" r="5.55"/><circle cx="294.2" cy="425.4" r="5.55"/><circle cx="298.3" cy="424.2" r="5.55"/><circle cx="299.4" cy="421.3" r="5.55"/><circle cx="300.0" cy="420.0" r="5.55"/><circle cx="303.4" cy="418.0" r="5.55"/><circle cx="304.2" cy="419.5" r="5.55"/><circle cx="306.3" cy="417.0" r="5.55"/><circle cx="311.9" cy="417.5" r="5.55"/><circle cx="310.9" cy="414.6" r="5.55"/><circle cx="312.8" cy="412.2" r="5.55"/><circle cx="312.9" cy="410.3" r="5.55"/><circle cx="318.3" cy="411.6" r="5.55"/><circle cx="319.5" cy="411.1" r="5.55"/><circle cx="322.9" cy="408.5" r="5.55"/><circle cx="318.7" cy="404.0" r="5.55"/><circle cx="322.0" cy="404.4" r="5.55"/><circle cx="324.8" cy="403.2" r="5.55"/><circle cx="328.7" cy="403.5" r="5.55"/><circle cx="327.6" cy="398.9" r="5.55"/><circle cx="329.3" cy="400.1" r="5.55"/><circle cx="333.1" cy="398.2" r="5.55"/><circle cx="332.2" cy="392.5" r="5.55"/><circle cx="334.4" cy="391.3" r="5.55"/><circle cx="338.8" cy="394.3" r="5.55"/><circle cx="336.0" cy="388.3" r="5.55"/><circle cx="338.2" cy="386.5" r="5.55"/><circle cx="342.7" cy="387.2" r="5.55"/><circle cx="344.7" cy="388.7" r="5.55"/><circle cx="346.3" cy="387.6" r="5.55"/><circle cx="345.2" cy="383.6" r="5.55"/><circle cx="349.3" cy="383.6" r="5.55"/><circle cx="347.8" cy="382.0" r="5.55"/><circle cx="352.3" cy="380.1" r="5.55"/><circle cx="351.6" cy="381.1" r="5.55"/><circle cx="355.7" cy="381.4" r="5.55"/><circle cx="356.6" cy="380.1" r="5.55"/><circle cx="356.0" cy="376.7" r="5.55"/><circle cx="358.1" cy="379.8" r="5.55"/><circle cx="357.6" cy="377.5" r="5.55"/><circle cx="360.5" cy="377.5" r="5.55"/><circle cx="357.4" cy="372.7" r="5.55"/><circle cx="359.7" cy="370.3" r="5.55"/><circle cx="361.8" cy="374.2" r="5.55"/><circle cx="362.5" cy="371.4" r="5.55"/><circle cx="362.1" cy="368.3" r="5.55"/><circle cx="363.2" cy="369.4" r="5.55"/><circle cx="363.8" cy="368.8" r="5.55"/><circle cx="366.0" cy="367.8" r="5.55"/><circle cx="365.2" cy="364.8" r="5.55"/><circle cx="366.6" cy="363.3" r="5.55"/><circle cx="372.0" cy="367.0" r="5.55"/><circle cx="372.2" cy="365.2" r="5.55"/><circle cx="370.2" cy="358.7" r="5.55"/><circle cx="369.9" cy="359.1" r="5.55"/><circle cx="373.6" cy="361.8" r="5.55"/><circle cx="374.1" cy="358.8" r="5.55"/><circle cx="374.3" cy="358.7" r="5.55"/><circle cx="372.4" cy="353.2" r="5.55"/><circle cx="374.7" cy="352.8" r="5.55"/><circle cx="378.1" cy="354.8" r="5.55"/><circle cx="376.1" cy="353.2" r="5.55"/><circle cx="380.9" cy="354.7" r="5.55"/><circle cx="377.0" cy="348.0" r="5.55"/><circle cx="380.2" cy="350.3" r="5.55"/><circle cx="379.3" cy="348.4" r="5.55"/><circle cx="383.3" cy="349.7" r="5.55"/><circle cx="386.7" cy="348.3" r="5.55"/><circle cx="386.1" cy="347.8" r="5.55"/><circle cx="381.1" cy="340.5" r="5.55"/><circle cx="383.9" cy="341.5" r="5.55"/><circle cx="386.9" cy="342.9" r="5.55"/><circle cx="385.7" cy="338.3" r="5.55"/><circle cx="384.8" cy="335.6" r="5.55"/><circle cx="388.9" cy="339.7" r="5.55"/><circle cx="385.4" cy="335.4" r="5.55"/><circle cx="387.9" cy="335.9" r="5.55"/><circle cx="391.2" cy="336.3" r="5.55"/><circle cx="393.5" cy="333.4" r="5.55"/><circle cx="393.1" cy="332.2" r="5.55"/><circle cx="391.6" cy="328.2" r="5.55"/><circle cx="393.9" cy="330.9" r="5.55"/><circle cx="397.6" cy="332.3" r="5.55"/><circle cx="396.1" cy="327.0" r="5.55"/><circle cx="403.2" cy="331.7" r="5.55"/><circle cx="401.9" cy="330.2" r="5.55"/><circle cx="404.3" cy="330.0" r="5.55"/><circle cx="405.9" cy="330.0" r="5.55"/><circle cx="406.1" cy="325.7" r="5.55"/><circle cx="405.8" cy="324.9" r="5.55"/><circle cx="406.6" cy="324.9" r="5.55"/><circle cx="408.7" cy="325.5" r="5.55"/><circle cx="404.2" cy="316.8" r="5.55"/><circle cx="406.3" cy="317.4" r="5.55"/><circle cx="410.0" cy="318.5" r="5.55"/><circle cx="405.5" cy="314.8" r="5.55"/><circle cx="407.4" cy="314.5" r="5.55"/><circle cx="412.7" cy="316.0" r="5.55"/><circle cx="409.8" cy="312.3" r="5.55"/><circle cx="416.0" cy="315.8" r="5.55"/><circle cx="416.0" cy="315.1" r="5.55"/><circle cx="414.2" cy="308.8" r="5.55"/><circle cx="417.2" cy="311.9" r="5.55"/><circle cx="417.4" cy="309.0" r="5.55"/><circle cx="419.4" cy="310.0" r="5.55"/><circle cx="416.4" cy="306.1" r="5.55"/><circle cx="416.3" cy="304.6" r="5.55"/><circle cx="418.4" cy="303.9" r="5.55"/><circle cx="419.5" cy="302.5" r="5.55"/><circle cx="416.3" cy="299.7" r="5.55"/><circle cx="422.7" cy="301.6" r="5.55"/><circle cx="425.9" cy="301.0" r="5.55"/><circle cx="422.2" cy="297.5" r="5.55"/><circle cx="422.6" cy="297.6" r="5.55"/><circle cx="426.0" cy="295.1" r="5.55"/><circle cx="426.4" cy="295.2" r="5.55"/><circle cx="421.8" cy="293.1" r="5.55"/><circle cx="429.8" cy="293.7" r="5.55"/><circle cx="429.2" cy="290.8" r="5.55"/><circle cx="426.5" cy="287.3" r="5.55"/><circle cx="432.1" cy="289.9" r="5.55"/><circle cx="433.3" cy="289.8" r="5.55"/><circle cx="432.0" cy="287.3" r="5.55"/><circle cx="430.0" cy="285.3" r="5.55"/><circle cx="435.1" cy="283.9" r="5.55"/><circle cx="438.5" cy="283.3" r="5.55"/><circle cx="434.3" cy="282.7" r="5.55"/><circle cx="435.2" cy="282.5" r="5.55"/><circle cx="433.3" cy="277.6" r="5.55"/><circle cx="432.7" cy="276.6" r="5.55"/><circle cx="435.1" cy="274.8" r="5.55"/><circle cx="441.1" cy="277.3" r="5.55"/><circle cx="437.7" cy="274.3" r="5.55"/><circle cx="439.3" cy="273.4" r="5.55"/><circle cx="439.7" cy="271.5" r="5.55"/><circle cx="443.8" cy="273.7" r="5.55"/><circle cx="441.2" cy="269.5" r="5.55"/><circle cx="439.2" cy="268.1" r="5.55"/><circle cx="443.8" cy="266.4" r="5.55"/><circle cx="448.4" cy="267.1" r="5.55"/><circle cx="447.0" cy="265.1" r="5.55"/><circle cx="447.3" cy="265.6" r="5.55"/><circle cx="448.1" cy="262.8" r="5.55"/><circle cx="448.4" cy="263.5" r="5.55"/><circle cx="450.3" cy="264.5" r="5.55"/><circle cx="450.1" cy="261.1" r="5.55"/><circle cx="450.3" cy="259.9" r="5.55"/><circle cx="449.5" cy="256.1" r="5.55"/><circle cx="449.1" cy="255.6" r="5.55"/><circle cx="454.1" cy="256.7" r="5.55"/><circle cx="453.9" cy="256.0" r="5.55"/><circle cx="452.0" cy="252.7" r="5.55"/><circle cx="453.1" cy="251.3" r="5.55"/><circle cx="451.2" cy="246.8" r="5.55"/><circle cx="451.7" cy="245.8" r="5.55"/><circle cx="455.9" cy="246.4" r="5.55"/><circle cx="459.5" cy="247.1" r="5.55"/><circle cx="462.4" cy="248.3" r="5.55"/><circle cx="461.7" cy="247.3" r="5.55"/><circle cx="464.3" cy="246.8" r="5.55"/><circle cx="460.0" cy="240.0" r="5.55"/><circle cx="460.5" cy="241.2" r="5.55"/><circle cx="464.2" cy="242.9" r="5.55"/><circle cx="466.7" cy="241.9" r="5.55"/><circle cx="468.2" cy="238.8" r="5.55"/><circle cx="471.2" cy="239.8" r="5.55"/><circle cx="469.4" cy="239.2" r="5.55"/><circle cx="470.9" cy="235.4" r="5.55"/><circle cx="468.4" cy="233.5" r="5.55"/><circle cx="471.3" cy="234.9" r="5.55"/><circle cx="467.1" cy="229.6" r="5.55"/><circle cx="468.4" cy="227.2" r="5.55"/><circle cx="469.2" cy="228.7" r="5.55"/><circle cx="475.5" cy="229.5" r="5.55"/><circle cx="468.2" cy="225.9" r="5.55"/><circle cx="471.5" cy="223.8" r="5.55"/><circle cx="476.1" cy="226.0" r="5.55"/><circle cx="478.7" cy="225.5" r="5.55"/><circle cx="479.9" cy="222.4" r="5.55"/><circle cx="474.9" cy="221.5" r="5.55"/><circle cx="481.4" cy="222.5" r="5.55"/><circle cx="477.2" cy="216.9" r="5.55"/><circle cx="479.2" cy="217.4" r="5.55"/><circle cx="482.7" cy="220.1" r="5.55"/><circle cx="481.5" cy="217.1" r="5.55"/><circle cx="480.8" cy="211.9" r="5.55"/><circle cx="478.9" cy="210.6" r="5.55"/><circle cx="483.3" cy="211.6" r="5.55"/><circle cx="482.0" cy="210.7" r="5.55"/><circle cx="482.7" cy="209.1" r="5.55"/><circle cx="488.1" cy="212.6" r="5.55"/><circle cx="487.0" cy="209.1" r="5.55"/><circle cx="486.5" cy="207.1" r="5.55"/><circle cx="488.9" cy="204.1" r="5.55"/><circle cx="485.5" cy="201.1" r="5.55"/><circle cx="493.7" cy="204.3" r="5.55"/><circle cx="492.0" cy="203.2" r="5.55"/><circle cx="495.0" cy="202.1" r="5.55"/><circle cx="494.9" cy="201.4" r="5.55"/><circle cx="496.6" cy="199.6" r="5.55"/><circle cx="493.5" cy="197.2" r="5.55"/><circle cx="491.1" cy="196.0" r="5.55"/><circle cx="500.6" cy="197.0" r="5.55"/><circle cx="493.8" cy="194.2" r="5.55"/><circle cx="492.9" cy="193.2" r="5.55"/><circle cx="496.8" cy="190.9" r="5.55"/><circle cx="495.3" cy="190.3" r="5.55"/><circle cx="495.6" cy="189.0" r="5.55"/><circle cx="499.0" cy="185.8" r="5.55"/><circle cx="502.5" cy="187.0" r="5.55"/><circle cx="496.0" cy="183.4" r="5.55"/><circle cx="499.1" cy="181.6" r="5.55"/><circle cx="503.1" cy="185.1" r="5.55"/><circle cx="504.5" cy="183.4" r="5.55"/><circle cx="497.2" cy="178.9" r="5.55"/><circle cx="504.2" cy="180.6" r="5.55"/><circle cx="501.1" cy="176.0" r="5.55"/><circle cx="505.5" cy="177.5" r="5.55"/><circle cx="509.5" cy="176.7" r="5.55"/><circle cx="508.8" cy="174.7" r="5.55"/><circle cx="502.5" cy="171.9" r="5.55"/><circle cx="510.2" cy="172.4" r="5.55"/><circle cx="504.4" cy="168.3" r="5.55"/><circle cx="508.5" cy="169.3" r="5.55"/><circle cx="505.7" cy="167.1" r="5.55"/><circle cx="504.5" cy="162.9" r="5.55"/><circle cx="508.6" cy="164.1" r="5.55"/><circle cx="507.7" cy="164.1" r="5.55"/><circle cx="511.0" cy="160.1" r="5.55"/><circle cx="511.1" cy="160.7" r="5.55"/><circle cx="506.7" cy="157.7" r="5.55"/><circle cx="512.8" cy="160.6" r="5.55"/><circle cx="512.0" cy="155.9" r="5.55"/><circle cx="514.2" cy="155.5" r="5.55"/><circle cx="513.2" cy="153.2" r="5.55"/><circle cx="517.3" cy="154.2" r="5.55"/><circle cx="515.3" cy="150.8" r="5.55"/><circle cx="516.9" cy="151.5" r="5.55"/><circle cx="521.6" cy="153.6" r="5.55"/><circle cx="518.8" cy="149.3" r="5.55"/><circle cx="519.7" cy="146.1" r="5.55"/><circle cx="522.3" cy="149.7" r="5.55"/><circle cx="517.4" cy="145.7" r="5.55"/><circle cx="522.1" cy="145.7" r="5.55"/><circle cx="521.2" cy="143.2" r="5.55"/><circle cx="525.9" cy="142.4" r="5.55"/><circle cx="520.0" cy="138.1" r="5.55"/><circle cx="528.7" cy="142.2" r="5.55"/><circle cx="524.4" cy="136.7" r="5.55"/><circle cx="525.0" cy="135.3" r="5.55"/><circle cx="528.0" cy="138.6" r="5.55"/><circle cx="527.5" cy="133.3" r="5.55"/><circle cx="528.7" cy="134.7" r="5.55"/><circle cx="533.9" cy="134.1" r="5.55"/><circle cx="527.7" cy="131.2" r="5.55"/><circle cx="528.5" cy="130.0" r="5.55"/><circle cx="533.2" cy="130.3" r="5.55"/><circle cx="530.3" cy="126.2" r="5.55"/><circle cx="536.9" cy="126.3" r="5.55"/><circle cx="536.0" cy="124.7" r="5.55"/><circle cx="531.7" cy="123.3" r="5.55"/><circle cx="530.1" cy="120.1" r="5.55"/><circle cx="534.8" cy="116.0" r="5.55"/><circle cx="534.5" cy="120.8" r="5.55"/><circle cx="528.6" cy="120.8" r="5.55"/><circle cx="531.0" cy="119.6" r="5.55"/><circle cx="539.0" cy="112.9" r="5.55"/><circle cx="530.0" cy="111.2" r="5.55"/><circle cx="527.6" cy="119.1" r="5.55"/><circle cx="526.8" cy="112.8" r="5.55"/><circle cx="536.1" cy="111.9" r="5.55"/><circle cx="530.6" cy="121.2" r="5.55"/><circle cx="536.7" cy="120.8" r="5.55"/><circle cx="529.0" cy="119.8" r="5.55"/><circle cx="536.2" cy="111.3" r="5.55"/><circle cx="533.3" cy="113.5" r="5.55"/><circle cx="532.1" cy="112.1" r="5.55"/><circle cx="530.3" cy="120.7" r="5.55"/><circle cx="527.1" cy="116.4" r="5.55"/><circle cx="527.4" cy="115.7" r="5.55"/><circle cx="528.1" cy="118.6" r="5.55"/><circle cx="527.6" cy="119.2" r="5.55"/><circle cx="533.2" cy="112.2" r="5.55"/><circle cx="530.9" cy="116.5" r="5.55"/><circle cx="539.9" cy="114.8" r="5.55"/><circle cx="539.3" cy="119.1" r="5.55"/><circle cx="529.6" cy="112.9" r="5.55"/><circle cx="529.4" cy="111.7" r="5.55"/><circle cx="525.9" cy="116.6" r="5.55"/><circle cx="531.7" cy="117.1" r="5.55"/><circle cx="531.0" cy="111.0" r="5.55"/><circle cx="536.2" cy="118.2" r="5.55"/><circle cx="533.9" cy="117.0" r="5.55"/><circle cx="536.2" cy="121.9" r="5.55"/><circle cx="539.2" cy="118.9" r="5.55"/><circle cx="531.6" cy="114.5" r="5.55"/><circle cx="531.9" cy="121.8" r="5.55"/><circle cx="531.4" cy="115.2" r="5.55"/><circle cx="531.8" cy="112.5" r="5.55"/><circle cx="534.9" cy="121.3" r="5.55"/><circle cx="529.3" cy="117.7" r="5.55"/><circle cx="531.2" cy="113.6" r="5.55"/><circle cx="548.0" cy="116.0" r="5.55"/><circle cx="559.3" cy="118.6" r="5.55"/><circle cx="578.5" cy="108.4" r="5.55"/><circle cx="595.6" cy="118.5" r="5.55"/><circle cx="591.6" cy="111.5" r="5.55"/><circle cx="590.4" cy="114.9" r="5.55"/><circle cx="581.6" cy="121.4" r="5.55"/><circle cx="595.8" cy="114.4" r="5.55"/><circle cx="588.9" cy="121.7" r="5.55"/><circle cx="579.5" cy="116.2" r="5.55"/><circle cx="592.9" cy="112.4" r="5.55"/><circle cx="592.1" cy="112.6" r="5.55"/><circle cx="587.2" cy="115.9" r="5.55"/><circle cx="591.2" cy="111.5" r="5.55"/><circle cx="589.9" cy="114.9" r="5.55"/><circle cx="579.2" cy="115.9" r="5.55"/><circle cx="580.3" cy="120.4" r="5.55"/><circle cx="585.8" cy="117.6" r="5.55"/><circle cx="587.1" cy="113.8" r="5.55"/><circle cx="579.1" cy="108.8" r="5.55"/><circle cx="597.8" cy="114.6" r="5.55"/><circle cx="587.1" cy="114.6" r="5.55"/><circle cx="594.8" cy="110.2" r="5.55"/><circle cx="577.9" cy="119.1" r="5.55"/><circle cx="585.5" cy="116.3" r="5.55"/><circle cx="595.1" cy="120.2" r="5.55"/><circle cx="583.4" cy="119.2" r="5.55"/><circle cx="594.9" cy="108.5" r="5.55"/><circle cx="577.4" cy="110.4" r="5.55"/><circle cx="576.0" cy="112.0" r="5.55"/><circle cx="594.5" cy="114.5" r="5.55"/><circle cx="585.3" cy="107.9" r="5.55"/><circle cx="591.6" cy="113.4" r="5.55"/><circle cx="585.9" cy="118.7" r="5.55"/><circle cx="593.3" cy="108.9" r="5.55"/><circle cx="591.3" cy="112.2" r="5.55"/><circle cx="587.0" cy="110.2" r="5.55"/><circle cx="583.1" cy="111.8" r="5.55"/><circle cx="583.4" cy="106.9" r="5.55"/><circle cx="578.6" cy="115.3" r="5.55"/><circle cx="592.3" cy="110.8" r="5.55"/><circle cx="581.9" cy="110.3" r="5.55"/><circle cx="595.3" cy="108.0" r="5.55"/><circle cx="590.1" cy="119.7" r="5.55"/><circle cx="578.6" cy="113.0" r="5.55"/><circle cx="594.2" cy="116.0" r="5.55"/><circle cx="583.1" cy="107.3" r="5.55"/><circle cx="585.0" cy="112.2" r="5.55"/><circle cx="592.1" cy="111.1" r="5.55"/><circle cx="584.1" cy="116.5" r="5.55"/><circle cx="594.7" cy="112.0" r="5.55"/><circle cx="583.5" cy="115.4" r="5.55"/><circle cx="597.7" cy="109.5" r="5.55"/><circle cx="598.9" cy="117.4" r="5.55"/><circle cx="583.1" cy="116.7" r="5.55"/><circle cx="582.0" cy="107.7" r="5.55"/><circle cx="593.3" cy="112.4" r="5.55"/><circle cx="587.2" cy="114.1" r="5.55"/><circle cx="597.1" cy="118.1" r="5.55"/><circle cx="574.0" cy="115.6" r="5.55"/><circle cx="585.5" cy="113.6" r="5.55"/><circle cx="595.5" cy="112.9" r="5.55"/><circle cx="585.8" cy="120.1" r="5.55"/><circle cx="584.9" cy="114.1" r="5.55"/><circle cx="586.8" cy="119.1" r="5.55"/><circle cx="591.0" cy="117.9" r="5.55"/><circle cx="583.9" cy="107.2" r="5.55"/><circle cx="591.2" cy="115.0" r="5.55"/><circle cx="593.6" cy="118.3" r="5.55"/><circle cx="576.4" cy="110.0" r="5.55"/><circle cx="575.3" cy="119.0" r="5.55"/><circle cx="593.2" cy="115.2" r="5.55"/><circle cx="574.8" cy="117.0" r="5.55"/><circle cx="592.1" cy="113.9" r="5.55"/><circle cx="574.7" cy="117.1" r="5.55"/><circle cx="584.3" cy="115.5" r="5.55"/><circle cx="596.3" cy="108.8" r="5.55"/><circle cx="582.1" cy="114.5" r="5.55"/><circle cx="580.6" cy="110.6" r="5.55"/><circle cx="581.6" cy="110.5" r="5.55"/><circle cx="596.0" cy="115.0" r="5.55"/><circle cx="586.8" cy="113.0" r="5.55"/><circle cx="574.7" cy="111.2" r="5.55"/><circle cx="596.2" cy="118.8" r="5.55"/><circle cx="595.9" cy="110.5" r="5.55"/><circle cx="587.5" cy="112.3" r="5.55"/><circle cx="585.6" cy="114.0" r="5.55"/><circle cx="588.7" cy="112.2" r="5.55"/><circle cx="594.5" cy="109.6" r="5.55"/><circle cx="597.6" cy="115.1" r="5.55"/><circle cx="574.7" cy="111.4" r="5.55"/><circle cx="587.4" cy="112.8" r="5.55"/><circle cx="588.2" cy="111.5" r="5.55"/><circle cx="580.5" cy="118.7" r="5.55"/><circle cx="581.0" cy="117.4" r="5.55"/><circle cx="594.5" cy="115.6" r="5.55"/><circle cx="585.3" cy="120.8" r="5.55"/><circle cx="585.0" cy="119.9" r="5.55"/><circle cx="574.8" cy="113.2" r="5.55"/><circle cx="590.2" cy="107.3" r="5.55"/><circle cx="589.0" cy="109.3" r="5.55"/><circle cx="597.7" cy="115.1" r="5.55"/><circle cx="594.4" cy="114.2" r="5.55"/><circle cx="591.1" cy="116.9" r="5.55"/><circle cx="581.1" cy="109.8" r="5.55"/><circle cx="595.4" cy="108.8" r="5.55"/><circle cx="597.5" cy="109.7" r="5.55"/><circle cx="594.0" cy="121.1" r="5.55"/><circle cx="584.2" cy="116.6" r="5.55"/><circle cx="580.1" cy="120.4" r="5.55"/><circle cx="591.4" cy="109.0" r="5.55"/><circle cx="574.8" cy="117.2" r="5.55"/><circle cx="581.1" cy="110.1" r="5.55"/><circle cx="588.7" cy="111.4" r="5.55"/><circle cx="588.1" cy="108.9" r="5.55"/><circle cx="597.4" cy="111.5" r="5.55"/><circle cx="595.5" cy="108.9" r="5.55"/><circle cx="583.6" cy="107.1" r="5.55"/><circle cx="583.3" cy="116.3" r="5.55"/><circle cx="579.2" cy="114.9" r="5.55"/><circle cx="575.8" cy="113.7" r="5.55"/><circle cx="592.5" cy="113.1" r="5.55"/><circle cx="591.2" cy="108.3" r="5.55"/><circle cx="595.2" cy="108.5" r="5.55"/><circle cx="598.1" cy="114.6" r="5.55"/><circle cx="581.0" cy="111.9" r="5.55"/><circle cx="593.1" cy="114.1" r="5.55"/><circle cx="586.1" cy="119.7" r="5.55"/><circle cx="589.1" cy="114.8" r="5.55"/><circle cx="580.5" cy="120.2" r="5.55"/><circle cx="595.6" cy="110.1" r="5.55"/><circle cx="589.1" cy="121.3" r="5.55"/><circle cx="582.4" cy="121.0" r="5.55"/><circle cx="590.6" cy="107.4" r="5.55"/><circle cx="582.1" cy="113.4" r="5.55"/><circle cx="579.8" cy="117.9" r="5.55"/><circle cx="578.0" cy="118.6" r="5.55"/><circle cx="581.2" cy="107.7" r="5.55"/><circle cx="588.1" cy="108.1" r="5.55"/><circle cx="587.9" cy="118.6" r="5.55"/><circle cx="589.0" cy="113.6" r="5.55"/><circle cx="574.2" cy="114.4" r="5.55"/><circle cx="575.9" cy="116.4" r="5.55"/><circle cx="576.8" cy="115.4" r="5.55"/><circle cx="582.6" cy="112.3" r="5.55"/><circle cx="590.8" cy="109.1" r="5.55"/><circle cx="582.1" cy="119.4" r="5.55"/><circle cx="596.4" cy="113.9" r="5.55"/><circle cx="577.2" cy="108.0" r="5.55"/><circle cx="596.5" cy="108.4" r="5.55"/><circle cx="586.4" cy="114.7" r="5.55"/><circle cx="576.4" cy="113.7" r="5.55"/><circle cx="577.6" cy="114.7" r="5.55"/><circle cx="586.7" cy="112.2" r="5.55"/><circle cx="578.5" cy="112.7" r="5.55"/><circle cx="578.7" cy="108.5" r="5.55"/><circle cx="579.6" cy="119.8" r="5.55"/><circle cx="586.5" cy="120.1" r="5.55"/><circle cx="586.2" cy="118.6" r="5.55"/><circle cx="588.4" cy="117.1" r="5.55"/><circle cx="579.4" cy="118.0" r="5.55"/><circle cx="577.4" cy="110.6" r="5.55"/><circle cx="574.1" cy="112.6" r="5.55"/><circle cx="587.0" cy="111.0" r="5.55"/><circle cx="588.6" cy="110.2" r="5.55"/><circle cx="589.0" cy="118.5" r="5.55"/><circle cx="592.1" cy="107.5" r="5.55"/><circle cx="579.8" cy="115.7" r="5.55"/><circle cx="589.6" cy="117.1" r="5.55"/><circle cx="594.8" cy="111.8" r="5.55"/><circle cx="594.7" cy="113.6" r="5.55"/><circle cx="598.1" cy="112.9" r="5.55"/><circle cx="584.0" cy="107.9" r="5.55"/><circle cx="579.8" cy="117.8" r="5.55"/><circle cx="591.2" cy="108.9" r="5.55"/><circle cx="582.4" cy="108.7" r="5.55"/><circle cx="578.5" cy="109.9" r="5.55"/><circle cx="582.0" cy="121.4" r="5.55"/><circle cx="586.0" cy="114.2" r="5.55"/><circle cx="593.9" cy="120.4" r="5.55"/><circle cx="593.1" cy="116.3" r="5.55"/><circle cx="578.6" cy="116.1" r="5.55"/><circle cx="595.6" cy="118.6" r="5.55"/><circle cx="575.7" cy="117.5" r="5.55"/><circle cx="582.5" cy="109.1" r="5.55"/><circle cx="598.8" cy="116.8" r="5.55"/><circle cx="593.0" cy="108.7" r="5.55"/><circle cx="597.2" cy="117.9" r="5.55"/><circle cx="595.3" cy="118.8" r="5.55"/><circle cx="588.9" cy="113.2" r="5.55"/><circle cx="595.1" cy="118.5" r="5.55"/><circle cx="596.3" cy="111.1" r="5.55"/><circle cx="598.7" cy="114.7" r="5.55"/><circle cx="580.0" cy="119.3" r="5.55"/><circle cx="579.4" cy="109.6" r="5.55"/><circle cx="585.4" cy="110.2" r="5.55"/><circle cx="586.3" cy="120.4" r="5.55"/><circle cx="591.4" cy="117.4" r="5.55"/><circle cx="583.6" cy="118.5" r="5.55"/><circle cx="594.3" cy="117.0" r="5.55"/><circle cx="584.0" cy="107.9" r="5.55"/><circle cx="590.5" cy="119.3" r="5.55"/><circle cx="582.3" cy="115.6" r="5.55"/><circle cx="595.4" cy="118.7" r="5.55"/><circle cx="573.4" cy="114.0" r="5.55"/><circle cx="594.7" cy="113.0" r="5.55"/><circle cx="589.3" cy="113.6" r="5.55"/><circle cx="582.2" cy="109.8" r="5.55"/><circle cx="582.6" cy="119.4" r="5.55"/><circle cx="589.6" cy="111.0" r="5.55"/><circle cx="575.6" cy="110.7" r="5.55"/><circle cx="591.8" cy="113.3" r="5.55"/><circle cx="590.8" cy="118.9" r="5.55"/><circle cx="576.5" cy="117.0" r="5.55"/><circle cx="578.2" cy="110.7" r="5.55"/><circle cx="598.6" cy="112.1" r="5.55"/><circle cx="579.2" cy="120.1" r="5.55"/><circle cx="589.4" cy="120.2" r="5.55"/><circle cx="583.7" cy="114.2" r="5.55"/><circle cx="598.5" cy="114.3" r="5.55"/><circle cx="595.2" cy="109.1" r="5.55"/><circle cx="587.2" cy="106.6" r="5.55"/><circle cx="585.3" cy="118.9" r="5.55"/><circle cx="579.9" cy="112.0" r="5.55"/><circle cx="576.0" cy="115.0" r="5.55"/><circle cx="596.1" cy="114.4" r="5.55"/><circle cx="583.2" cy="120.7" r="5.55"/><circle cx="596.9" cy="116.7" r="5.55"/><circle cx="575.3" cy="116.1" r="5.55"/><circle cx="585.0" cy="121.2" r="5.55"/><circle cx="582.9" cy="116.6" r="5.55"/><circle cx="590.0" cy="112.3" r="5.55"/><circle cx="587.1" cy="116.9" r="5.55"/><circle cx="597.2" cy="114.2" r="5.55"/><circle cx="582.9" cy="121.4" r="5.55"/><circle cx="591.3" cy="115.1" r="5.55"/><circle cx="585.1" cy="118.0" r="5.55"/><circle cx="596.8" cy="117.7" r="5.55"/><circle cx="593.1" cy="107.1" r="5.55"/><circle cx="581.9" cy="108.7" r="5.55"/><circle cx="577.1" cy="115.5" r="5.55"/><circle cx="588.5" cy="107.3" r="5.55"/><circle cx="589.5" cy="129.6" r="5.55"/><circle cx="586.7" cy="129.4" r="5.55"/><circle cx="585.7" cy="132.5" r="5.55"/><circle cx="588.5" cy="133.9" r="5.55"/><circle cx="585.1" cy="133.2" r="5.55"/><circle cx="586.3" cy="135.5" r="5.55"/><circle cx="588.7" cy="135.3" r="5.55"/><circle cx="583.1" cy="135.5" r="5.55"/><circle cx="590.2" cy="139.0" r="5.55"/><circle cx="588.7" cy="139.5" r="5.55"/><circle cx="581.5" cy="139.6" r="5.55"/><circle cx="581.6" cy="140.2" r="5.55"/><circle cx="586.9" cy="142.4" r="5.55"/><circle cx="587.2" cy="144.5" r="5.55"/><circle cx="588.7" cy="146.3" r="5.55"/><circle cx="586.4" cy="148.9" r="5.55"/><circle cx="583.2" cy="147.7" r="5.55"/><circle cx="583.4" cy="149.0" r="5.55"/><circle cx="584.0" cy="151.7" r="5.55"/><circle cx="587.1" cy="153.8" r="5.55"/><circle cx="587.8" cy="154.6" r="5.55"/><circle cx="582.8" cy="152.7" r="5.55"/><circle cx="584.1" cy="155.8" r="5.55"/><circle cx="586.8" cy="157.4" r="5.55"/><circle cx="583.4" cy="158.7" r="5.55"/><circle cx="583.8" cy="160.8" r="5.55"/><circle cx="584.7" cy="161.2" r="5.55"/><circle cx="580.0" cy="162.6" r="5.55"/><circle cx="581.8" cy="164.8" r="5.55"/><circle cx="582.1" cy="164.4" r="5.55"/><circle cx="581.5" cy="165.0" r="5.55"/><circle cx="578.9" cy="166.8" r="5.55"/><circle cx="574.8" cy="166.0" r="5.55"/><circle cx="583.3" cy="169.3" r="5.55"/><circle cx="574.5" cy="169.9" r="5.55"/><circle cx="579.2" cy="171.9" r="5.55"/><circle cx="574.3" cy="172.6" r="5.55"/><circle cx="581.8" cy="175.4" r="5.55"/><circle cx="578.0" cy="176.6" r="5.55"/><circle cx="575.6" cy="177.6" r="5.55"/><circle cx="574.4" cy="176.4" r="5.55"/><circle cx="576.2" cy="179.4" r="5.55"/><circle cx="583.1" cy="180.9" r="5.55"/><circle cx="581.0" cy="181.3" r="5.55"/><circle cx="582.7" cy="183.6" r="5.55"/><circle cx="575.1" cy="183.8" r="5.55"/><circle cx="582.6" cy="187.0" r="5.55"/><circle cx="583.3" cy="187.4" r="5.55"/><circle cx="580.3" cy="186.4" r="5.55"/><circle cx="576.8" cy="189.8" r="5.55"/><circle cx="574.0" cy="188.3" r="5.55"/><circle cx="575.8" cy="190.6" r="5.55"/><circle cx="576.4" cy="191.7" r="5.55"/><circle cx="580.0" cy="195.7" r="5.55"/><circle cx="576.8" cy="194.1" r="5.55"/><circle cx="582.2" cy="197.4" r="5.55"/><circle cx="581.9" cy="198.6" r="5.55"/><circle cx="576.6" cy="198.9" r="5.55"/><circle cx="576.8" cy="199.5" r="5.55"/><circle cx="572.1" cy="201.8" r="5.55"/><circle cx="579.0" cy="205.4" r="5.55"/><circle cx="578.0" cy="202.9" r="5.55"/><circle cx="575.3" cy="205.7" r="5.55"/><circle cx="579.1" cy="206.3" r="5.55"/><circle cx="579.4" cy="207.7" r="5.55"/><circle cx="576.2" cy="209.3" r="5.55"/><circle cx="574.2" cy="208.7" r="5.55"/><circle cx="574.7" cy="211.8" r="5.55"/><circle cx="571.5" cy="213.8" r="5.55"/><circle cx="571.2" cy="214.2" r="5.55"/><circle cx="576.9" cy="213.9" r="5.55"/><circle cx="569.8" cy="216.1" r="5.55"/><circle cx="573.6" cy="216.3" r="5.55"/><circle cx="566.0" cy="216.5" r="5.55"/><circle cx="574.1" cy="219.4" r="5.55"/><circle cx="566.6" cy="220.2" r="5.55"/><circle cx="574.0" cy="221.2" r="5.55"/><circle cx="569.2" cy="224.8" r="5.55"/><circle cx="565.8" cy="224.0" r="5.55"/><circle cx="573.0" cy="225.4" r="5.55"/><circle cx="568.8" cy="225.9" r="5.55"/><circle cx="573.6" cy="229.9" r="5.55"/><circle cx="563.7" cy="230.0" r="5.55"/><circle cx="566.2" cy="229.6" r="5.55"/><circle cx="565.2" cy="230.3" r="5.55"/><circle cx="571.5" cy="233.4" r="5.55"/><circle cx="573.4" cy="236.2" r="5.55"/><circle cx="568.7" cy="234.5" r="5.55"/><circle cx="567.7" cy="235.8" r="5.55"/><circle cx="566.1" cy="238.7" r="5.55"/><circle cx="565.9" cy="238.2" r="5.55"/><circle cx="562.8" cy="239.4" r="5.55"/><circle cx="566.1" cy="240.1" r="5.55"/><circle cx="567.2" cy="243.0" r="5.55"/><circle cx="564.3" cy="243.9" r="5.55"/><circle cx="564.2" cy="243.4" r="5.55"/><circle cx="567.4" cy="247.3" r="5.55"/><circle cx="569.2" cy="248.9" r="5.55"/><circle cx="567.0" cy="248.4" r="5.55"/><circle cx="565.9" cy="249.5" r="5.55"/><circle cx="561.7" cy="250.1" r="5.55"/><circle cx="564.0" cy="253.6" r="5.55"/><circle cx="565.0" cy="252.8" r="5.55"/><circle cx="562.4" cy="255.6" r="5.55"/><circle cx="572.7" cy="256.2" r="5.55"/><circle cx="570.5" cy="260.2" r="5.55"/><circle cx="565.8" cy="261.0" r="5.55"/><circle cx="571.4" cy="260.3" r="5.55"/><circle cx="570.7" cy="264.9" r="5.55"/><circle cx="569.5" cy="265.3" r="5.55"/><circle cx="566.3" cy="263.0" r="5.55"/><circle cx="560.8" cy="265.9" r="5.55"/><circle cx="561.2" cy="265.4" r="5.55"/><circle cx="563.6" cy="268.4" r="5.55"/><circle cx="560.3" cy="266.9" r="5.55"/><circle cx="562.3" cy="268.8" r="5.55"/><circle cx="566.6" cy="273.1" r="5.55"/><circle cx="557.5" cy="271.7" r="5.55"/><circle cx="564.2" cy="274.8" r="5.55"/><circle cx="561.0" cy="273.3" r="5.55"/><circle cx="558.9" cy="275.6" r="5.55"/><circle cx="556.5" cy="276.9" r="5.55"/><circle cx="563.1" cy="279.1" r="5.55"/><circle cx="556.2" cy="277.4" r="5.55"/><circle cx="553.3" cy="280.2" r="5.55"/><circle cx="563.1" cy="281.3" r="5.55"/><circle cx="557.1" cy="283.1" r="5.55"/><circle cx="558.9" cy="284.9" r="5.55"/><circle cx="553.3" cy="285.3" r="5.55"/><circle cx="552.9" cy="287.0" r="5.55"/><circle cx="562.0" cy="290.0" r="5.55"/><circle cx="557.2" cy="290.8" r="5.55"/><circle cx="552.0" cy="288.8" r="5.55"/><circle cx="558.7" cy="291.9" r="5.55"/><circle cx="557.8" cy="291.9" r="5.55"/><circle cx="550.1" cy="293.1" r="5.55"/><circle cx="551.7" cy="295.9" r="5.55"/><circle cx="551.7" cy="296.2" r="5.55"/><circle cx="555.4" cy="296.2" r="5.55"/><circle cx="550.1" cy="299.8" r="5.55"/><circle cx="551.5" cy="300.8" r="5.55"/><circle cx="551.5" cy="301.9" r="5.55"/><circle cx="551.3" cy="301.7" r="5.55"/><circle cx="556.6" cy="304.4" r="5.55"/><circle cx="559.3" cy="306.2" r="5.55"/><circle cx="555.4" cy="308.1" r="5.55"/><circle cx="551.7" cy="308.2" r="5.55"/><circle cx="561.1" cy="309.1" r="5.55"/><circle cx="552.5" cy="308.6" r="5.55"/><circle cx="554.6" cy="312.8" r="5.55"/><circle cx="557.7" cy="313.3" r="5.55"/><circle cx="554.4" cy="315.1" r="5.55"/><circle cx="559.7" cy="314.0" r="5.55"/><circle cx="559.4" cy="317.7" r="5.55"/><circle cx="553.8" cy="318.5" r="5.55"/><circle cx="553.6" cy="319.8" r="5.55"/><circle cx="559.2" cy="320.6" r="5.55"/><circle cx="555.4" cy="320.6" r="5.55"/><circle cx="552.4" cy="323.6" r="5.55"/><circle cx="553.8" cy="325.4" r="5.55"/><circle cx="555.6" cy="325.3" r="5.55"/><circle cx="548.6" cy="325.0" r="5.55"/><circle cx="553.5" cy="329.8" r="5.55"/><circle cx="546.4" cy="325.5" r="5.55"/><circle cx="551.2" cy="331.5" r="5.55"/><circle cx="546.9" cy="329.5" r="5.55"/><circle cx="551.1" cy="333.4" r="5.55"/><circle cx="546.2" cy="332.3" r="5.55"/><circle cx="551.2" cy="334.2" r="5.55"/><circle cx="542.5" cy="333.4" r="5.55"/><circle cx="546.6" cy="335.8" r="5.55"/><circle cx="551.8" cy="339.8" r="5.55"/><circle cx="541.9" cy="337.1" r="5.55"/><circle cx="549.7" cy="342.3" r="5.55"/><circle cx="547.3" cy="341.7" r="5.55"/><circle cx="547.9" cy="343.8" r="5.55"/><circle cx="546.0" cy="344.7" r="5.55"/><circle cx="547.9" cy="344.7" r="5.55"/><circle cx="545.3" cy="346.8" r="5.55"/><circle cx="539.9" cy="345.0" r="5.55"/><circle cx="539.7" cy="347.0" r="5.55"/><circle cx="543.7" cy="348.3" r="5.55"/><circle cx="540.5" cy="349.1" r="5.55"/><circle cx="542.7" cy="350.9" r="5.55"/><circle cx="543.1" cy="352.2" r="5.55"/><circle cx="543.6" cy="354.5" r="5.55"/><circle cx="542.0" cy="355.2" r="5.55"/><circle cx="539.8" cy="356.8" r="5.55"/><circle cx="537.7" cy="359.3" r="5.55"/><circle cx="538.2" cy="358.8" r="5.55"/><circle cx="546.4" cy="362.8" r="5.55"/><circle cx="547.9" cy="362.4" r="5.55"/><circle cx="543.7" cy="365.1" r="5.55"/><circle cx="544.0" cy="364.3" r="5.55"/><circle cx="541.7" cy="365.4" r="5.55"/><circle cx="538.1" cy="366.3" r="5.55"/><circle cx="548.0" cy="370.0" r="5.55"/><circle cx="547.5" cy="370.9" r="5.55"/><circle cx="541.6" cy="370.9" r="5.55"/><circle cx="539.9" cy="372.7" r="5.55"/><circle cx="537.0" cy="373.5" r="5.55"/><circle cx="535.9" cy="373.2" r="5.55"/><circle cx="542.0" cy="376.5" r="5.55"/><circle cx="534.3" cy="374.2" r="5.55"/><circle cx="542.3" cy="379.2" r="5.55"/><circle cx="539.8" cy="380.6" r="5.55"/><circle cx="531.8" cy="378.3" r="5.55"/><circle cx="540.1" cy="384.6" r="5.55"/><circle cx="535.5" cy="382.3" r="5.55"/><circle cx="534.3" cy="385.5" r="5.55"/><circle cx="537.0" cy="387.0" r="5.55"/><circle cx="529.2" cy="383.8" r="5.55"/><circle cx="529.4" cy="384.8" r="5.55"/><circle cx="535.0" cy="389.4" r="5.55"/><circle cx="534.8" cy="388.6" r="5.55"/><circle cx="537.7" cy="393.0" r="5.55"/><circle cx="532.8" cy="392.2" r="5.55"/><circle cx="535.7" cy="393.8" r="5.55"/><circle cx="527.0" cy="391.6" r="5.55"/><circle cx="530.6" cy="395.4" r="5.55"/><circle cx="534.8" cy="397.6" r="5.55"/><circle cx="528.9" cy="397.1" r="5.55"/><circle cx="524.9" cy="398.1" r="5.55"/><circle cx="523.8" cy="398.4" r="5.55"/><circle cx="529.1" cy="400.7" r="5.55"/><circle cx="532.2" cy="402.4" r="5.55"/><circle cx="529.6" cy="405.5" r="5.55"/><circle cx="528.4" cy="405.8" r="5.55"/><circle cx="524.3" cy="406.7" r="5.55"/><circle cx="531.9" cy="407.7" r="5.55"/><circle cx="526.9" cy="409.9" r="5.55"/><circle cx="523.5" cy="409.0" r="5.55"/><circle cx="524.0" cy="410.7" r="5.55"/><circle cx="526.6" cy="411.6" r="5.55"/><circle cx="530.2" cy="414.4" r="5.55"/><circle cx="533.4" cy="417.3" r="5.55"/><circle cx="529.2" cy="417.6" r="5.55"/><circle cx="534.1" cy="419.3" r="5.55"/><circle cx="526.3" cy="419.5" r="5.55"/><circle cx="523.4" cy="419.7" r="5.55"/><circle cx="528.0" cy="423.4" r="5.55"/><circle cx="527.6" cy="424.5" r="5.55"/><circle cx="528.6" cy="426.3" r="5.55"/><circle cx="523.8" cy="425.3" r="5.55"/><circle cx="528.2" cy="426.3" r="5.55"/><circle cx="529.4" cy="428.0" r="5.55"/><circle cx="524.8" cy="427.5" r="5.55"/><circle cx="518.2" cy="428.1" r="5.55"/><circle cx="520.2" cy="429.6" r="5.55"/><circle cx="522.5" cy="430.2" r="5.55"/><circle cx="524.6" cy="434.0" r="5.55"/><circle cx="517.5" cy="434.5" r="5.55"/><circle cx="518.7" cy="435.7" r="5.55"/><circle cx="522.9" cy="438.6" r="5.55"/><circle cx="522.2" cy="439.1" r="5.55"/><circle cx="515.6" cy="439.3" r="5.55"/><circle cx="522.8" cy="439.7" r="5.55"/><circle cx="516.8" cy="440.2" r="5.55"/><circle cx="524.2" cy="442.6" r="5.55"/><circle cx="523.5" cy="444.5" r="5.55"/><circle cx="515.3" cy="445.6" r="5.55"/><circle cx="521.2" cy="448.0" r="5.55"/><circle cx="520.2" cy="448.2" r="5.55"/><circle cx="518.0" cy="448.7" r="5.55"/><circle cx="518.3" cy="448.9" r="5.55"/><circle cx="518.9" cy="450.0" r="5.55"/><circle cx="512.6" cy="450.4" r="5.55"/><circle cx="511.5" cy="451.8" r="5.55"/><circle cx="516.1" cy="456.3" r="5.55"/><circle cx="517.8" cy="455.9" r="5.55"/><circle cx="513.5" cy="457.6" r="5.55"/><circle cx="509.1" cy="457.1" r="5.55"/><circle cx="511.7" cy="457.3" r="5.55"/><circle cx="508.8" cy="460.1" r="5.55"/><circle cx="516.2" cy="463.2" r="5.55"/><circle cx="516.2" cy="463.4" r="5.55"/><circle cx="516.1" cy="466.1" r="5.55"/><circle cx="514.8" cy="465.9" r="5.55"/><circle cx="510.4" cy="464.7" r="5.55"/><circle cx="515.1" cy="468.8" r="5.55"/><circle cx="509.9" cy="469.2" r="5.55"/><circle cx="514.9" cy="471.3" r="5.55"/><circle cx="514.1" cy="471.7" r="5.55"/><circle cx="508.0" cy="472.8" r="5.55"/>
</g>
<text x="154.4" y="82.4" font-size="25" textLength="35.0" lengthAdjust="spacingAndGlyphs">(a)</text>
<circle cx="212.6" cy="74.7" r="5.5" fill="none" stroke="#595959" stroke-width="1.7"/>
<text font-size="25"><tspan x="225.3" y="82.4" textLength="45.7" lengthAdjust="spacingAndGlyphs">SiC</tspan> <tspan x="280.3" y="82.4" textLength="28.7" lengthAdjust="spacingAndGlyphs">(w</tspan><tspan x="311.6" y="88.0" font-size="37" textLength="12.0" lengthAdjust="spacingAndGlyphs">/</tspan><tspan x="324.6" y="82.4" textLength="14.4" lengthAdjust="spacingAndGlyphs">o</tspan> <tspan x="349.2" y="82.4" textLength="96.6" lengthAdjust="spacingAndGlyphs">plasma)</tspan></text>
<circle cx="509.5" cy="74.4" r="5.6" fill="none" stroke="#ff0000" stroke-width="1.7"/>
<text font-size="25"><tspan x="523.2" y="82.4" textLength="45.8" lengthAdjust="spacingAndGlyphs">SiC</tspan> <tspan x="578.2" y="82.4" textLength="106.8" lengthAdjust="spacingAndGlyphs">(plasma)</tspan></text>
<text x="117.0" y="490.9" font-size="26.5" textLength="13.8" lengthAdjust="spacingAndGlyphs">0</text>
<text x="94.6" y="418.8" font-size="26.5" textLength="36.2" lengthAdjust="spacingAndGlyphs">0.1</text>
<text x="94.6" y="346.7" font-size="26.5" textLength="36.2" lengthAdjust="spacingAndGlyphs">0.2</text>
<text x="94.6" y="274.6" font-size="26.5" textLength="36.2" lengthAdjust="spacingAndGlyphs">0.3</text>
<text x="94.6" y="202.4" font-size="26.5" textLength="36.2" lengthAdjust="spacingAndGlyphs">0.4</text>
<text x="94.6" y="130.3" font-size="26.5" textLength="36.2" lengthAdjust="spacingAndGlyphs">0.5</text>
<text x="94.6" y="58.2" font-size="26.5" textLength="36.2" lengthAdjust="spacingAndGlyphs">0.6</text>
<text x="134.1" y="510.7" font-size="26.5" textLength="13.8" lengthAdjust="spacingAndGlyphs">0</text>
<text x="196.2" y="510.7" font-size="26.5" textLength="28.0" lengthAdjust="spacingAndGlyphs">10</text>
<text x="265.4" y="510.7" font-size="26.5" textLength="28.0" lengthAdjust="spacingAndGlyphs">20</text>
<text x="334.6" y="510.7" font-size="26.5" textLength="28.0" lengthAdjust="spacingAndGlyphs">30</text>
<text x="403.9" y="510.7" font-size="26.5" textLength="28.0" lengthAdjust="spacingAndGlyphs">40</text>
<text x="473.1" y="510.7" font-size="26.5" textLength="28.0" lengthAdjust="spacingAndGlyphs">50</text>
<text x="542.3" y="510.7" font-size="26.5" textLength="28.0" lengthAdjust="spacingAndGlyphs">60</text>
<text x="611.5" y="510.7" font-size="26.5" textLength="28.0" lengthAdjust="spacingAndGlyphs">70</text>
<text x="680.7" y="510.7" font-size="26.5" textLength="28.0" lengthAdjust="spacingAndGlyphs">80</text>
<text transform="translate(70.3,326.6) rotate(-90)" font-size="25"><tspan x="0.0" y="0.0" textLength="61.6" lengthAdjust="spacingAndGlyphs">Load</tspan><tspan x="63.6" y="5.4" font-size="37" textLength="10.0" lengthAdjust="spacingAndGlyphs">/</tspan><tspan x="76.6" y="0.0" textLength="41.4" lengthAdjust="spacingAndGlyphs">mN</tspan></text>
<text font-size="25"><tspan x="308.0" y="549.3" textLength="164.8" lengthAdjust="spacingAndGlyphs">Displacement</tspan><tspan x="475.6" y="554.6" font-size="37.5" textLength="13.2" lengthAdjust="spacingAndGlyphs">/</tspan><tspan x="489.8" y="549.3" textLength="37.2" lengthAdjust="spacingAndGlyphs">nm</tspan></text>
<rect x="224.6" y="699.1" width="110.4" height="323.9" fill="#808080" stroke="#000" stroke-width="1.3"/>
<rect x="500.8" y="984.1" width="110.5" height="38.9" fill="#ff0000" stroke="#000" stroke-width="1.3"/>
<rect x="141.2" y="590.6" width="553.7" height="432.4" fill="none" stroke="#000" stroke-width="1.6"/>
<path d="M141.2 979.8h5.5M141.2 936.5h8M141.2 893.3h5.5M141.2 850.0h8M141.2 806.8h5.5M141.2 763.6h8M141.2 720.3h5.5M141.2 677.1h8M141.2 633.8h5.5M279.8 693.8V701.7M273.6 693.8h12.5M273.6 701.7h12.5M556.5 976.3V990.4M550.2 976.3h12.5M550.2 990.4h12.5" stroke="#000" stroke-width="1.5" fill="none"/>
<text x="117.0" y="1032.5" font-size="26.5" textLength="13.8" lengthAdjust="spacingAndGlyphs">0</text>
<text x="103.2" y="946.0" font-size="26.5" textLength="27.8" lengthAdjust="spacingAndGlyphs">10</text>
<text x="103.2" y="859.5" font-size="26.5" textLength="27.8" lengthAdjust="spacingAndGlyphs">20</text>
<text x="103.2" y="773.1" font-size="26.5" textLength="27.8" lengthAdjust="spacingAndGlyphs">30</text>
<text x="103.2" y="686.6" font-size="26.5" textLength="27.8" lengthAdjust="spacingAndGlyphs">40</text>
<text x="103.2" y="600.1" font-size="26.5" textLength="27.8" lengthAdjust="spacingAndGlyphs">50</text>
<text x="155.2" y="623.0" font-size="25" textLength="35.8" lengthAdjust="spacingAndGlyphs">(b)</text>
<text x="253.0" y="681.0" font-size="26.5" textLength="50.3" lengthAdjust="spacingAndGlyphs">37.4</text>
<text x="537.0" y="964.6" font-size="26.5" textLength="35.5" lengthAdjust="spacingAndGlyphs">4.5</text>
<text x="256.8" y="1050.7" font-size="25" textLength="46.0" lengthAdjust="spacingAndGlyphs">SiC</text>
<text x="199.2" y="1080.5" font-size="25" textLength="161.6" lengthAdjust="spacingAndGlyphs">(As-received)</text>
<text x="533.3" y="1050.7" font-size="25" textLength="45.3" lengthAdjust="spacingAndGlyphs">SiC</text>
<text x="502.1" y="1080.5" font-size="25" textLength="107.4" lengthAdjust="spacingAndGlyphs">(plasma)</text>
<text transform="translate(80.4,897.2) rotate(-90)" font-size="25"><tspan x="0.0" y="0.0" textLength="111.6" lengthAdjust="spacingAndGlyphs">Hardness</tspan><tspan x="113.6" y="5.2" font-size="37" textLength="11.4" lengthAdjust="spacingAndGlyphs">/</tspan><tspan x="128.6" y="0.0" textLength="54.8" lengthAdjust="spacingAndGlyphs">GPa</tspan></text>
<text class="cj" x="4.9" y="1159.8" font-size="26.5">图</text>
<text x="45.5" y="1160.4" font-size="29" textLength="13.5" lengthAdjust="spacingAndGlyphs">6</text>
<text class="cj" x="99.8 130.6 161.4 192.3" y="1159.8" font-size="26.5">改性前后</text>
<text x="228.0" y="1160.4" font-size="29" textLength="167.0" lengthAdjust="spacingAndGlyphs">4H-SiC(0001)</text>
<text class="cj" x="403.9 435.0 466.1 497.3 528.4 559.5" y="1159.8" font-size="26.5">纳米压痕实验</text>
<text x="592.0" y="1152.4" font-size="20.5" textLength="5.0" lengthAdjust="spacingAndGlyphs">[</text>
<text x="597.0" y="1152.0" font-size="19" textLength="17.2" lengthAdjust="spacingAndGlyphs" fill="#0000f0">49</text>
<text x="614.2" y="1152.4" font-size="20.5" textLength="5.0" lengthAdjust="spacingAndGlyphs">]</text>
<text x="652.5" y="1160.4" font-size="29" textLength="33.5" lengthAdjust="spacingAndGlyphs">(a)</text>
<text class="cj" x="695.2 726.4" y="1159.8" font-size="26.5">载荷</text>
<text class="cj" x="4.8 34.9 65.0 95.1" y="1203.6" font-size="26.5">位移曲线</text>
<text x="125.0" y="1204.2" font-size="29" textLength="6.5" lengthAdjust="spacingAndGlyphs">;</text>
<text x="145.3" y="1204.2" font-size="29" textLength="34.2" lengthAdjust="spacingAndGlyphs">(b)</text>
<text class="cj" x="186.2 216.7 247.1 277.6 308.1 338.6 369.1 399.6" y="1203.6" font-size="26.5">计算获得的硬度值</text>
<g fill="#fff" style="filter:drop-shadow(.8px .8px .5px rgba(0,0,0,.5))"><path d="M598.5 1176.5c-6 0-10.500 3.800-10.500 8.600c0 2.700 1.500 5.100 3.900 6.700l-1.200 3.600l4.100-2.200c1.200.3 2.400.5 3.700.5c6 0 10.500-3.800 10.500-8.600s-4.500-8.600-10.500-8.600z"/></g>
<g fill="#fff" style="filter:drop-shadow(.8px .8px .5px rgba(0,0,0,.5))"><path d="M609 1183.500c-5.200 0-9.200 3.500-9.200 7.800s4 7.800 9.200 7.800c1.100 0 2.100-.2 3.100-.4l3.600 2l-1-3.200c2.100-1.400 3.500-3.600 3.500-6.200c0-4.300-4-7.800-9.200-7.800z"/></g>
<g fill="#c4c4c4"><circle cx="595" cy="1182.500" r=".9"/><circle cx="601.500" cy="1182.500" r=".9"/><circle cx="606" cy="1189.500" r=".8"/><circle cx="612" cy="1189.500" r=".8"/></g>
<text x="626.0" y="1194.6" font-size="18.5" font-family='"Liberation Sans","Noto Sans CJK SC",sans-serif' textLength="116.5" lengthAdjust="spacingAndGlyphs" fill="#fff" style="text-shadow:1px 1px .6px rgba(0,0,0,.62)">DT半导体材料</text>
</svg>
</body>
</html>
